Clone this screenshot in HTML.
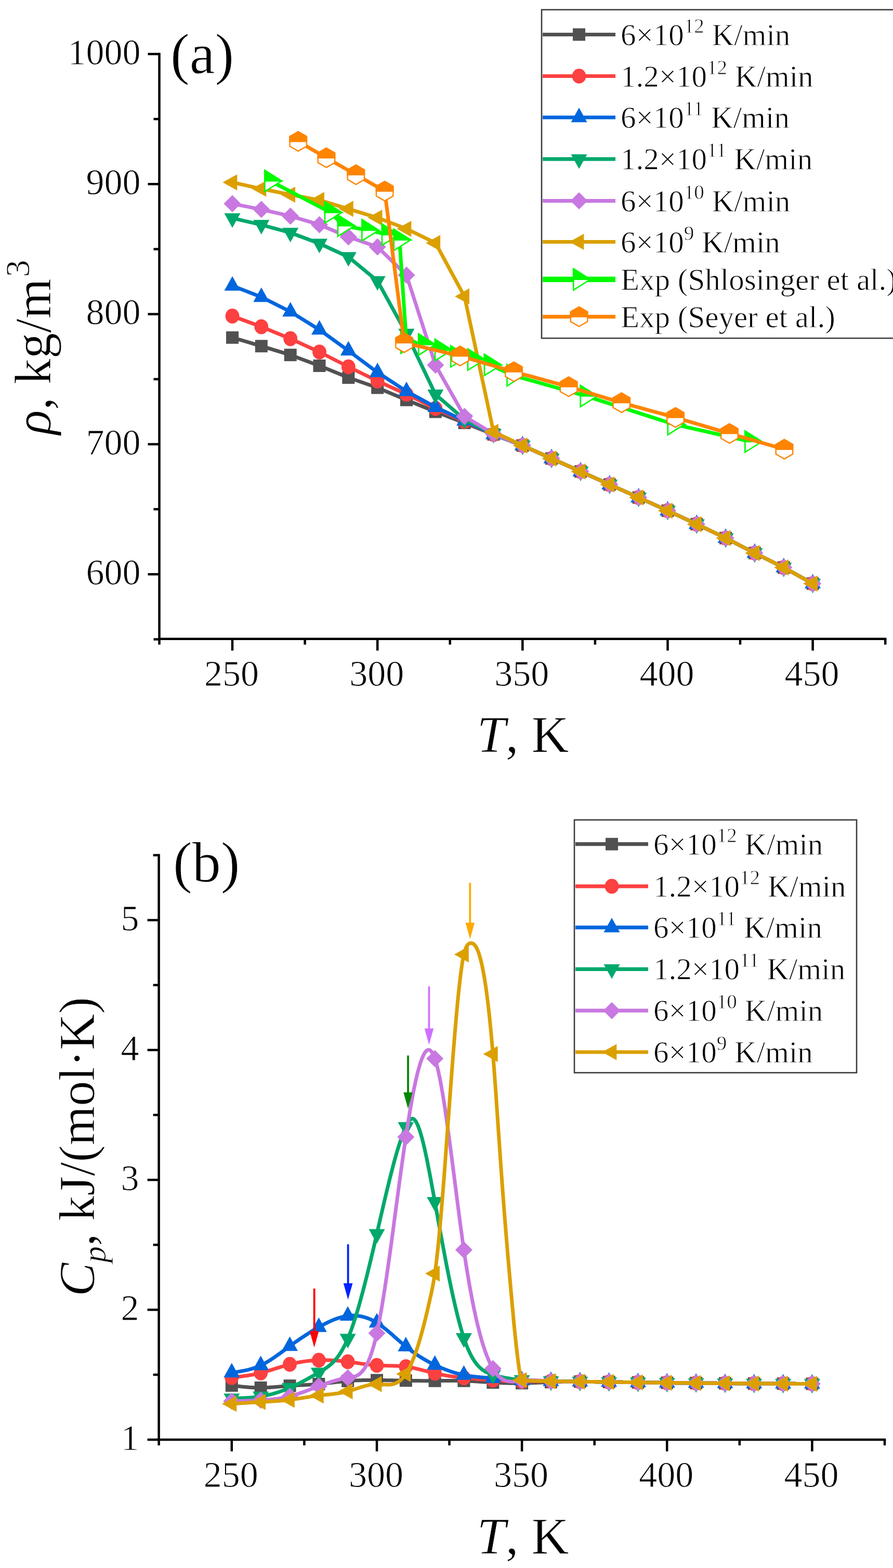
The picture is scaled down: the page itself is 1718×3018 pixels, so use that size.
<!DOCTYPE html>
<html><head><meta charset="utf-8"><title>Figure</title>
<style>
html,body{margin:0;padding:0;background:#fff;}
body{width:1718px;height:3018px;overflow:hidden;}
svg{display:block;}
text{font-family:'Liberation Serif', 'Times New Roman', serif;fill:#000;stroke:#fff;stroke-width:0.9px;}
.tl{font-size:70px;}
.at{font-size:99.5px;}
.pl{font-size:110px;}
.lg{font-size:59px;}
.sup{font-size:39px;}
</style></head><body>
<svg width="1718" height="3018" viewBox="0 0 1718 3018">
<rect width="1718" height="3018" fill="#fff"/>
<line x1="306.5" y1="101.7" x2="306.5" y2="1232.0" stroke="#000" stroke-width="4.5"/>
<line x1="304.2" y1="1229.7" x2="1705.4" y2="1229.7" stroke="#000" stroke-width="4.5"/>
<line x1="284.5" y1="1105.3" x2="306.5" y2="1105.3" stroke="#000" stroke-width="4.5"/>
<line x1="284.5" y1="855.0" x2="306.5" y2="855.0" stroke="#000" stroke-width="4.5"/>
<line x1="284.5" y1="604.6" x2="306.5" y2="604.6" stroke="#000" stroke-width="4.5"/>
<line x1="284.5" y1="354.3" x2="306.5" y2="354.3" stroke="#000" stroke-width="4.5"/>
<line x1="284.5" y1="104.0" x2="306.5" y2="104.0" stroke="#000" stroke-width="4.5"/>
<line x1="295.5" y1="1230.5" x2="306.5" y2="1230.5" stroke="#000" stroke-width="4.5"/>
<line x1="295.5" y1="980.1" x2="306.5" y2="980.1" stroke="#000" stroke-width="4.5"/>
<line x1="295.5" y1="729.8" x2="306.5" y2="729.8" stroke="#000" stroke-width="4.5"/>
<line x1="295.5" y1="479.5" x2="306.5" y2="479.5" stroke="#000" stroke-width="4.5"/>
<line x1="295.5" y1="229.1" x2="306.5" y2="229.1" stroke="#000" stroke-width="4.5"/>
<line x1="447.0" y1="1229.7" x2="447.0" y2="1252.2" stroke="#000" stroke-width="4.5"/>
<line x1="726.2" y1="1229.7" x2="726.2" y2="1252.2" stroke="#000" stroke-width="4.5"/>
<line x1="1005.3" y1="1229.7" x2="1005.3" y2="1252.2" stroke="#000" stroke-width="4.5"/>
<line x1="1284.5" y1="1229.7" x2="1284.5" y2="1252.2" stroke="#000" stroke-width="4.5"/>
<line x1="1563.6" y1="1229.7" x2="1563.6" y2="1252.2" stroke="#000" stroke-width="4.5"/>
<line x1="306.5" y1="1229.7" x2="306.5" y2="1240.7" stroke="#000" stroke-width="4.5"/>
<line x1="586.6" y1="1229.7" x2="586.6" y2="1240.7" stroke="#000" stroke-width="4.5"/>
<line x1="865.7" y1="1229.7" x2="865.7" y2="1240.7" stroke="#000" stroke-width="4.5"/>
<line x1="1144.9" y1="1229.7" x2="1144.9" y2="1240.7" stroke="#000" stroke-width="4.5"/>
<line x1="1424.0" y1="1229.7" x2="1424.0" y2="1240.7" stroke="#000" stroke-width="4.5"/>
<line x1="1703.2" y1="1229.7" x2="1703.2" y2="1240.7" stroke="#000" stroke-width="4.5"/>
<text x="270.5" y="1124.8" text-anchor="end" class="tl">600</text>
<text x="270.5" y="874.5" text-anchor="end" class="tl">700</text>
<text x="270.5" y="624.1" text-anchor="end" class="tl">800</text>
<text x="270.5" y="373.8" text-anchor="end" class="tl">900</text>
<text x="270.5" y="123.5" text-anchor="end" class="tl">1000</text>
<text x="445.5" y="1319.5" text-anchor="middle" class="tl">250</text>
<text x="724.7" y="1319.5" text-anchor="middle" class="tl">300</text>
<text x="1003.8" y="1319.5" text-anchor="middle" class="tl">350</text>
<text x="1283.0" y="1319.5" text-anchor="middle" class="tl">400</text>
<text x="1562.1" y="1319.5" text-anchor="middle" class="tl">450</text>
<polyline points="447.0,649.7 502.8,666.2 558.7,683.2 614.5,704.0 670.3,726.8 726.2,746.3 782.0,769.8 837.8,792.6 893.6,813.9 949.5,836.2 1005.3,857.5 1061.1,882.5 1117.0,907.5 1172.8,932.6 1228.6,957.6 1284.5,982.9 1340.3,1008.9 1396.1,1035.7 1451.9,1064.5 1507.8,1092.3 1563.6,1123.3" fill="none" stroke="#515151" stroke-width="7.0" stroke-linejoin="round" stroke-linecap="butt"/>
<rect x="435.0" y="637.7" width="24" height="24" fill="#515151"/>
<rect x="490.8" y="654.2" width="24" height="24" fill="#515151"/>
<rect x="546.7" y="671.2" width="24" height="24" fill="#515151"/>
<rect x="602.5" y="692.0" width="24" height="24" fill="#515151"/>
<rect x="658.3" y="714.8" width="24" height="24" fill="#515151"/>
<rect x="714.2" y="734.3" width="24" height="24" fill="#515151"/>
<rect x="770.0" y="757.8" width="24" height="24" fill="#515151"/>
<rect x="825.8" y="780.6" width="24" height="24" fill="#515151"/>
<rect x="881.6" y="801.9" width="24" height="24" fill="#515151"/>
<rect x="937.5" y="824.2" width="24" height="24" fill="#515151"/>
<rect x="993.3" y="845.5" width="24" height="24" fill="#515151"/>
<rect x="1049.1" y="870.5" width="24" height="24" fill="#515151"/>
<rect x="1105.0" y="895.5" width="24" height="24" fill="#515151"/>
<rect x="1160.8" y="920.6" width="24" height="24" fill="#515151"/>
<rect x="1216.6" y="945.6" width="24" height="24" fill="#515151"/>
<rect x="1272.5" y="970.9" width="24" height="24" fill="#515151"/>
<rect x="1328.3" y="996.9" width="24" height="24" fill="#515151"/>
<rect x="1384.1" y="1023.7" width="24" height="24" fill="#515151"/>
<rect x="1439.9" y="1052.5" width="24" height="24" fill="#515151"/>
<rect x="1495.8" y="1080.3" width="24" height="24" fill="#515151"/>
<rect x="1551.6" y="1111.3" width="24" height="24" fill="#515151"/>
<polyline points="447.0,608.4 502.8,628.9 558.7,651.9 614.5,677.5 670.3,706.0 726.2,733.3 782.0,758.8 837.8,786.1 893.6,811.2 949.5,836.2 1005.3,857.5 1061.1,882.5 1117.0,907.5 1172.8,932.6 1228.6,957.6 1284.5,982.9 1340.3,1008.9 1396.1,1035.7 1451.9,1064.5 1507.8,1092.3 1563.6,1123.3" fill="none" stroke="#fd4040" stroke-width="7.0" stroke-linejoin="round" stroke-linecap="butt"/>
<ellipse cx="447.0" cy="608.4" rx="13.4" ry="14.3" fill="#fd4040"/>
<ellipse cx="502.8" cy="628.9" rx="13.4" ry="14.3" fill="#fd4040"/>
<ellipse cx="558.7" cy="651.9" rx="13.4" ry="14.3" fill="#fd4040"/>
<ellipse cx="614.5" cy="677.5" rx="13.4" ry="14.3" fill="#fd4040"/>
<ellipse cx="670.3" cy="706.0" rx="13.4" ry="14.3" fill="#fd4040"/>
<ellipse cx="726.2" cy="733.3" rx="13.4" ry="14.3" fill="#fd4040"/>
<ellipse cx="782.0" cy="758.8" rx="13.4" ry="14.3" fill="#fd4040"/>
<ellipse cx="837.8" cy="786.1" rx="13.4" ry="14.3" fill="#fd4040"/>
<ellipse cx="893.6" cy="811.2" rx="13.4" ry="14.3" fill="#fd4040"/>
<ellipse cx="949.5" cy="836.2" rx="13.4" ry="14.3" fill="#fd4040"/>
<ellipse cx="1005.3" cy="857.5" rx="13.4" ry="14.3" fill="#fd4040"/>
<ellipse cx="1061.1" cy="882.5" rx="13.4" ry="14.3" fill="#fd4040"/>
<ellipse cx="1117.0" cy="907.5" rx="13.4" ry="14.3" fill="#fd4040"/>
<ellipse cx="1172.8" cy="932.6" rx="13.4" ry="14.3" fill="#fd4040"/>
<ellipse cx="1228.6" cy="957.6" rx="13.4" ry="14.3" fill="#fd4040"/>
<ellipse cx="1284.5" cy="982.9" rx="13.4" ry="14.3" fill="#fd4040"/>
<ellipse cx="1340.3" cy="1008.9" rx="13.4" ry="14.3" fill="#fd4040"/>
<ellipse cx="1396.1" cy="1035.7" rx="13.4" ry="14.3" fill="#fd4040"/>
<ellipse cx="1451.9" cy="1064.5" rx="13.4" ry="14.3" fill="#fd4040"/>
<ellipse cx="1507.8" cy="1092.3" rx="13.4" ry="14.3" fill="#fd4040"/>
<ellipse cx="1563.6" cy="1123.3" rx="13.4" ry="14.3" fill="#fd4040"/>
<polyline points="447.0,550.1 502.8,571.8 558.7,599.9 614.5,634.7 670.3,675.0 726.2,716.8 782.0,753.1 837.8,783.6 893.6,809.9 949.5,836.2 1005.3,857.5 1061.1,882.5 1117.0,907.5 1172.8,932.6 1228.6,957.6 1284.5,982.9 1340.3,1008.9 1396.1,1035.7 1451.9,1064.5 1507.8,1092.3 1563.6,1123.3" fill="none" stroke="#0066dd" stroke-width="7.0" stroke-linejoin="round" stroke-linecap="butt"/>
<polygon points="447.0,531.4 462.5,559.4 431.5,559.4" fill="#0066dd"/>
<polygon points="502.8,553.2 518.3,581.2 487.3,581.2" fill="#0066dd"/>
<polygon points="558.7,581.2 574.2,609.2 543.2,609.2" fill="#0066dd"/>
<polygon points="614.5,616.0 630.0,644.0 599.0,644.0" fill="#0066dd"/>
<polygon points="670.3,656.3 685.8,684.3 654.8,684.3" fill="#0066dd"/>
<polygon points="726.2,698.1 741.7,726.1 710.7,726.1" fill="#0066dd"/>
<polygon points="782.0,734.4 797.5,762.4 766.5,762.4" fill="#0066dd"/>
<polygon points="837.8,764.9 853.3,792.9 822.3,792.9" fill="#0066dd"/>
<polygon points="893.6,791.2 909.1,819.2 878.1,819.2" fill="#0066dd"/>
<polygon points="949.5,817.5 965.0,845.5 934.0,845.5" fill="#0066dd"/>
<polygon points="1005.3,838.8 1020.8,866.8 989.8,866.8" fill="#0066dd"/>
<polygon points="1061.1,863.8 1076.6,891.8 1045.6,891.8" fill="#0066dd"/>
<polygon points="1117.0,888.9 1132.5,916.9 1101.5,916.9" fill="#0066dd"/>
<polygon points="1172.8,913.9 1188.3,941.9 1157.3,941.9" fill="#0066dd"/>
<polygon points="1228.6,938.9 1244.1,966.9 1213.1,966.9" fill="#0066dd"/>
<polygon points="1284.5,964.2 1300.0,992.2 1269.0,992.2" fill="#0066dd"/>
<polygon points="1340.3,990.2 1355.8,1018.2 1324.8,1018.2" fill="#0066dd"/>
<polygon points="1396.1,1017.0 1411.6,1045.0 1380.6,1045.0" fill="#0066dd"/>
<polygon points="1451.9,1045.8 1467.4,1073.8 1436.4,1073.8" fill="#0066dd"/>
<polygon points="1507.8,1073.6 1523.3,1101.6 1492.3,1101.6" fill="#0066dd"/>
<polygon points="1563.6,1104.6 1579.1,1132.6 1548.1,1132.6" fill="#0066dd"/>
<polyline points="447.0,419.9 502.8,432.7 558.7,447.9 614.5,468.7 670.3,494.5 726.2,540.8 782.0,642.2 837.8,759.1 893.6,807.4 949.5,834.9 1005.3,857.5 1061.1,882.5 1117.0,907.5 1172.8,932.6 1228.6,957.6 1284.5,982.9 1340.3,1008.9 1396.1,1035.7 1451.9,1064.5 1507.8,1092.3 1563.6,1123.3" fill="none" stroke="#00a86b" stroke-width="7.0" stroke-linejoin="round" stroke-linecap="butt"/>
<polygon points="447.0,438.6 462.5,410.6 431.5,410.6" fill="#00a86b"/>
<polygon points="502.8,451.3 518.3,423.3 487.3,423.3" fill="#00a86b"/>
<polygon points="558.7,466.6 574.2,438.6 543.2,438.6" fill="#00a86b"/>
<polygon points="614.5,487.4 630.0,459.4 599.0,459.4" fill="#00a86b"/>
<polygon points="670.3,513.2 685.8,485.2 654.8,485.2" fill="#00a86b"/>
<polygon points="726.2,559.5 741.7,531.5 710.7,531.5" fill="#00a86b"/>
<polygon points="782.0,660.8 797.5,632.8 766.5,632.8" fill="#00a86b"/>
<polygon points="837.8,777.8 853.3,749.8 822.3,749.8" fill="#00a86b"/>
<polygon points="893.6,826.1 909.1,798.1 878.1,798.1" fill="#00a86b"/>
<polygon points="949.5,853.6 965.0,825.6 934.0,825.6" fill="#00a86b"/>
<polygon points="1005.3,876.1 1020.8,848.1 989.8,848.1" fill="#00a86b"/>
<polygon points="1061.1,901.2 1076.6,873.2 1045.6,873.2" fill="#00a86b"/>
<polygon points="1117.0,926.2 1132.5,898.2 1101.5,898.2" fill="#00a86b"/>
<polygon points="1172.8,951.2 1188.3,923.2 1157.3,923.2" fill="#00a86b"/>
<polygon points="1228.6,976.3 1244.1,948.3 1213.1,948.3" fill="#00a86b"/>
<polygon points="1284.5,1001.5 1300.0,973.5 1269.0,973.5" fill="#00a86b"/>
<polygon points="1340.3,1027.6 1355.8,999.6 1324.8,999.6" fill="#00a86b"/>
<polygon points="1396.1,1054.4 1411.6,1026.4 1380.6,1026.4" fill="#00a86b"/>
<polygon points="1451.9,1083.2 1467.4,1055.2 1436.4,1055.2" fill="#00a86b"/>
<polygon points="1507.8,1110.9 1523.3,1082.9 1492.3,1082.9" fill="#00a86b"/>
<polygon points="1563.6,1142.0 1579.1,1114.0 1548.1,1114.0" fill="#00a86b"/>
<polyline points="447.0,392.1 502.8,403.1 558.7,415.9 614.5,432.4 670.3,455.9 726.2,475.2 782.0,529.5 837.8,702.8 893.6,801.4 949.5,834.9 1005.3,857.5 1061.1,882.5 1117.0,907.5 1172.8,932.6 1228.6,957.6 1284.5,982.9 1340.3,1008.9 1396.1,1035.7 1451.9,1064.5 1507.8,1092.3 1563.6,1123.3" fill="none" stroke="#c878e0" stroke-width="7.0" stroke-linejoin="round" stroke-linecap="butt"/>
<polygon points="447.0,375.6 463.5,392.1 447.0,408.6 430.5,392.1" fill="#c878e0"/>
<polygon points="502.8,386.6 519.3,403.1 502.8,419.6 486.3,403.1" fill="#c878e0"/>
<polygon points="558.7,399.4 575.2,415.9 558.7,432.4 542.2,415.9" fill="#c878e0"/>
<polygon points="614.5,415.9 631.0,432.4 614.5,448.9 598.0,432.4" fill="#c878e0"/>
<polygon points="670.3,439.4 686.8,455.9 670.3,472.4 653.8,455.9" fill="#c878e0"/>
<polygon points="726.2,458.7 742.7,475.2 726.2,491.7 709.7,475.2" fill="#c878e0"/>
<polygon points="782.0,513.0 798.5,529.5 782.0,546.0 765.5,529.5" fill="#c878e0"/>
<polygon points="837.8,686.3 854.3,702.8 837.8,719.3 821.3,702.8" fill="#c878e0"/>
<polygon points="893.6,784.9 910.1,801.4 893.6,817.9 877.1,801.4" fill="#c878e0"/>
<polygon points="949.5,818.4 966.0,834.9 949.5,851.4 933.0,834.9" fill="#c878e0"/>
<polygon points="1005.3,841.0 1021.8,857.5 1005.3,874.0 988.8,857.5" fill="#c878e0"/>
<polygon points="1061.1,866.0 1077.6,882.5 1061.1,899.0 1044.6,882.5" fill="#c878e0"/>
<polygon points="1117.0,891.0 1133.5,907.5 1117.0,924.0 1100.5,907.5" fill="#c878e0"/>
<polygon points="1172.8,916.1 1189.3,932.6 1172.8,949.1 1156.3,932.6" fill="#c878e0"/>
<polygon points="1228.6,941.1 1245.1,957.6 1228.6,974.1 1212.1,957.6" fill="#c878e0"/>
<polygon points="1284.5,966.4 1301.0,982.9 1284.5,999.4 1268.0,982.9" fill="#c878e0"/>
<polygon points="1340.3,992.4 1356.8,1008.9 1340.3,1025.4 1323.8,1008.9" fill="#c878e0"/>
<polygon points="1396.1,1019.2 1412.6,1035.7 1396.1,1052.2 1379.6,1035.7" fill="#c878e0"/>
<polygon points="1451.9,1048.0 1468.4,1064.5 1451.9,1081.0 1435.4,1064.5" fill="#c878e0"/>
<polygon points="1507.8,1075.8 1524.3,1092.3 1507.8,1108.8 1491.3,1092.3" fill="#c878e0"/>
<polygon points="1563.6,1106.8 1580.1,1123.3 1563.6,1139.8 1547.1,1123.3" fill="#c878e0"/>
<polyline points="447.0,351.0 502.8,363.3 558.7,374.8 614.5,385.1 670.3,402.1 726.2,419.1 782.0,440.4 837.8,467.7 893.6,570.6 949.5,831.2 1005.3,857.5 1061.1,882.5 1117.0,907.5 1172.8,932.6 1228.6,957.6 1284.5,982.9 1340.3,1008.9 1396.1,1035.7 1451.9,1064.5 1507.8,1092.3 1563.6,1123.3" fill="none" stroke="#dba000" stroke-width="7.0" stroke-linejoin="round" stroke-linecap="butt"/>
<polygon points="428.3,351.0 456.3,335.5 456.3,366.5" fill="#dba000"/>
<polygon points="484.2,363.3 512.2,347.8 512.2,378.8" fill="#dba000"/>
<polygon points="540.0,374.8 568.0,359.3 568.0,390.3" fill="#dba000"/>
<polygon points="595.8,385.1 623.8,369.6 623.8,400.6" fill="#dba000"/>
<polygon points="651.7,402.1 679.7,386.6 679.7,417.6" fill="#dba000"/>
<polygon points="707.5,419.1 735.5,403.6 735.5,434.6" fill="#dba000"/>
<polygon points="763.3,440.4 791.3,424.9 791.3,455.9" fill="#dba000"/>
<polygon points="819.1,467.7 847.1,452.2 847.1,483.2" fill="#dba000"/>
<polygon points="875.0,570.6 903.0,555.1 903.0,586.1" fill="#dba000"/>
<polygon points="930.8,831.2 958.8,815.7 958.8,846.7" fill="#dba000"/>
<polygon points="986.6,857.5 1014.6,842.0 1014.6,873.0" fill="#dba000"/>
<polygon points="1042.5,882.5 1070.5,867.0 1070.5,898.0" fill="#dba000"/>
<polygon points="1098.3,907.5 1126.3,892.0 1126.3,923.0" fill="#dba000"/>
<polygon points="1154.1,932.6 1182.1,917.1 1182.1,948.1" fill="#dba000"/>
<polygon points="1210.0,957.6 1238.0,942.1 1238.0,973.1" fill="#dba000"/>
<polygon points="1265.8,982.9 1293.8,967.4 1293.8,998.4" fill="#dba000"/>
<polygon points="1321.6,1008.9 1349.6,993.4 1349.6,1024.4" fill="#dba000"/>
<polygon points="1377.4,1035.7 1405.4,1020.2 1405.4,1051.2" fill="#dba000"/>
<polygon points="1433.3,1064.5 1461.3,1049.0 1461.3,1080.0" fill="#dba000"/>
<polygon points="1489.1,1092.3 1517.1,1076.8 1517.1,1107.8" fill="#dba000"/>
<polygon points="1544.9,1123.3 1572.9,1107.8 1572.9,1138.8" fill="#dba000"/>
<polyline points="520.1,348.3 635.7,408.9 660.8,434.4 707.2,443.2 745.7,451.7 768.6,461.7 782.0,659.7 816.0,663.2 847.9,673.7 878.0,686.0 910.9,692.0 942.8,702.3 986.3,722.3 1127.6,762.3 1295.6,816.4 1444.1,850.0" fill="none" stroke="#00fa00" stroke-width="7.0" stroke-linejoin="round" stroke-linecap="butt"/>
<polygon points="509.3,327.8 541.8,348.3 509.3,368.8" fill="#fff" stroke="#00fa00" stroke-width="2.6" stroke-linejoin="miter"/><polygon points="509.3,327.8 541.8,348.3 509.3,348.3" fill="#00fa00" stroke="#00fa00" stroke-width="2.6"/>
<polygon points="624.9,388.4 657.4,408.9 624.9,429.4" fill="#fff" stroke="#00fa00" stroke-width="2.6" stroke-linejoin="miter"/><polygon points="624.9,388.4 657.4,408.9 624.9,408.9" fill="#00fa00" stroke="#00fa00" stroke-width="2.6"/>
<polygon points="650.0,413.9 682.5,434.4 650.0,454.9" fill="#fff" stroke="#00fa00" stroke-width="2.6" stroke-linejoin="miter"/><polygon points="650.0,413.9 682.5,434.4 650.0,434.4" fill="#00fa00" stroke="#00fa00" stroke-width="2.6"/>
<polygon points="696.3,422.7 728.8,443.2 696.3,463.7" fill="#fff" stroke="#00fa00" stroke-width="2.6" stroke-linejoin="miter"/><polygon points="696.3,422.7 728.8,443.2 696.3,443.2" fill="#00fa00" stroke="#00fa00" stroke-width="2.6"/>
<polygon points="734.9,431.2 767.4,451.7 734.9,472.2" fill="#fff" stroke="#00fa00" stroke-width="2.6" stroke-linejoin="miter"/><polygon points="734.9,431.2 767.4,451.7 734.9,451.7" fill="#00fa00" stroke="#00fa00" stroke-width="2.6"/>
<polygon points="757.7,441.2 790.2,461.7 757.7,482.2" fill="#fff" stroke="#00fa00" stroke-width="2.6" stroke-linejoin="miter"/><polygon points="757.7,441.2 790.2,461.7 757.7,461.7" fill="#00fa00" stroke="#00fa00" stroke-width="2.6"/>
<polygon points="771.1,639.2 803.6,659.7 771.1,680.2" fill="#fff" stroke="#00fa00" stroke-width="2.6" stroke-linejoin="miter"/><polygon points="771.1,639.2 803.6,659.7 771.1,659.7" fill="#00fa00" stroke="#00fa00" stroke-width="2.6"/>
<polygon points="805.2,642.7 837.7,663.2 805.2,683.7" fill="#fff" stroke="#00fa00" stroke-width="2.6" stroke-linejoin="miter"/><polygon points="805.2,642.7 837.7,663.2 805.2,663.2" fill="#00fa00" stroke="#00fa00" stroke-width="2.6"/>
<polygon points="837.0,653.2 869.5,673.7 837.0,694.2" fill="#fff" stroke="#00fa00" stroke-width="2.6" stroke-linejoin="miter"/><polygon points="837.0,653.2 869.5,673.7 837.0,673.7" fill="#00fa00" stroke="#00fa00" stroke-width="2.6"/>
<polygon points="867.2,665.5 899.7,686.0 867.2,706.5" fill="#fff" stroke="#00fa00" stroke-width="2.6" stroke-linejoin="miter"/><polygon points="867.2,665.5 899.7,686.0 867.2,686.0" fill="#00fa00" stroke="#00fa00" stroke-width="2.6"/>
<polygon points="900.1,671.5 932.6,692.0 900.1,712.5" fill="#fff" stroke="#00fa00" stroke-width="2.6" stroke-linejoin="miter"/><polygon points="900.1,671.5 932.6,692.0 900.1,692.0" fill="#00fa00" stroke="#00fa00" stroke-width="2.6"/>
<polygon points="931.9,681.8 964.4,702.3 931.9,722.8" fill="#fff" stroke="#00fa00" stroke-width="2.6" stroke-linejoin="miter"/><polygon points="931.9,681.8 964.4,702.3 931.9,702.3" fill="#00fa00" stroke="#00fa00" stroke-width="2.6"/>
<polygon points="975.5,701.8 1008.0,722.3 975.5,742.8" fill="#fff" stroke="#00fa00" stroke-width="2.6" stroke-linejoin="miter"/><polygon points="975.5,701.8 1008.0,722.3 975.5,722.3" fill="#00fa00" stroke="#00fa00" stroke-width="2.6"/>
<polygon points="1116.7,741.8 1149.2,762.3 1116.7,782.8" fill="#fff" stroke="#00fa00" stroke-width="2.6" stroke-linejoin="miter"/><polygon points="1116.7,741.8 1149.2,762.3 1116.7,762.3" fill="#00fa00" stroke="#00fa00" stroke-width="2.6"/>
<polygon points="1284.8,795.9 1317.3,816.4 1284.8,836.9" fill="#fff" stroke="#00fa00" stroke-width="2.6" stroke-linejoin="miter"/><polygon points="1284.8,795.9 1317.3,816.4 1284.8,816.4" fill="#00fa00" stroke="#00fa00" stroke-width="2.6"/>
<polygon points="1433.3,829.5 1465.8,850.0 1433.3,870.5" fill="#fff" stroke="#00fa00" stroke-width="2.6" stroke-linejoin="miter"/><polygon points="1433.3,829.5 1465.8,850.0 1433.3,850.0" fill="#00fa00" stroke="#00fa00" stroke-width="2.6"/>
<polyline points="573.7,272.2 627.9,303.7 684.8,336.3 740.1,367.8 777.5,659.7 885.3,685.2 988.6,715.5 1094.1,744.3 1195.7,775.1 1299.5,803.6 1403.4,834.4 1508.9,864.7" fill="none" stroke="#ff8400" stroke-width="7.0" stroke-linejoin="round" stroke-linecap="butt"/>
<polygon points="573.7,253.5 589.9,262.8 589.9,281.5 573.7,290.9 557.5,281.5 557.5,262.8" fill="#fff" stroke="#ff8400" stroke-width="2.4"/><polygon points="557.5,272.2 557.5,262.8 573.7,253.5 589.9,262.8 589.9,272.2" fill="#ff8400" stroke="#ff8400" stroke-width="2.4"/>
<polygon points="627.9,285.0 644.1,294.4 644.1,313.1 627.9,322.4 611.7,313.1 611.7,294.4" fill="#fff" stroke="#ff8400" stroke-width="2.4"/><polygon points="611.7,303.7 611.7,294.4 627.9,285.0 644.1,294.4 644.1,303.7" fill="#ff8400" stroke="#ff8400" stroke-width="2.4"/>
<polygon points="684.8,317.6 701.0,326.9 701.0,345.6 684.8,355.0 668.6,345.6 668.6,326.9" fill="#fff" stroke="#ff8400" stroke-width="2.4"/><polygon points="668.6,336.3 668.6,326.9 684.8,317.6 701.0,326.9 701.0,336.3" fill="#ff8400" stroke="#ff8400" stroke-width="2.4"/>
<polygon points="740.1,349.1 756.3,358.5 756.3,377.2 740.1,386.5 723.9,377.2 723.9,358.5" fill="#fff" stroke="#ff8400" stroke-width="2.4"/><polygon points="723.9,367.8 723.9,358.5 740.1,349.1 756.3,358.5 756.3,367.8" fill="#ff8400" stroke="#ff8400" stroke-width="2.4"/>
<polygon points="777.5,641.0 793.7,650.4 793.7,669.1 777.5,678.4 761.3,669.1 761.3,650.4" fill="#fff" stroke="#ff8400" stroke-width="2.4"/><polygon points="761.3,659.7 761.3,650.4 777.5,641.0 793.7,650.4 793.7,659.7" fill="#ff8400" stroke="#ff8400" stroke-width="2.4"/>
<polygon points="885.3,666.5 901.5,675.9 901.5,694.6 885.3,703.9 869.1,694.6 869.1,675.9" fill="#fff" stroke="#ff8400" stroke-width="2.4"/><polygon points="869.1,685.2 869.1,675.9 885.3,666.5 901.5,675.9 901.5,685.2" fill="#ff8400" stroke="#ff8400" stroke-width="2.4"/>
<polygon points="988.6,696.8 1004.7,706.2 1004.7,724.9 988.6,734.2 972.4,724.9 972.4,706.2" fill="#fff" stroke="#ff8400" stroke-width="2.4"/><polygon points="972.4,715.5 972.4,706.2 988.6,696.8 1004.7,706.2 1004.7,715.5" fill="#ff8400" stroke="#ff8400" stroke-width="2.4"/>
<polygon points="1094.1,725.6 1110.3,735.0 1110.3,753.7 1094.1,763.0 1077.9,753.7 1077.9,735.0" fill="#fff" stroke="#ff8400" stroke-width="2.4"/><polygon points="1077.9,744.3 1077.9,735.0 1094.1,725.6 1110.3,735.0 1110.3,744.3" fill="#ff8400" stroke="#ff8400" stroke-width="2.4"/>
<polygon points="1195.7,756.4 1211.9,765.8 1211.9,784.5 1195.7,793.8 1179.5,784.5 1179.5,765.8" fill="#fff" stroke="#ff8400" stroke-width="2.4"/><polygon points="1179.5,775.1 1179.5,765.8 1195.7,756.4 1211.9,765.8 1211.9,775.1" fill="#ff8400" stroke="#ff8400" stroke-width="2.4"/>
<polygon points="1299.5,784.9 1315.7,794.3 1315.7,813.0 1299.5,822.3 1283.3,813.0 1283.3,794.3" fill="#fff" stroke="#ff8400" stroke-width="2.4"/><polygon points="1283.3,803.6 1283.3,794.3 1299.5,784.9 1315.7,794.3 1315.7,803.6" fill="#ff8400" stroke="#ff8400" stroke-width="2.4"/>
<polygon points="1403.4,815.7 1419.6,825.1 1419.6,843.8 1403.4,853.1 1387.2,843.8 1387.2,825.1" fill="#fff" stroke="#ff8400" stroke-width="2.4"/><polygon points="1387.2,834.4 1387.2,825.1 1403.4,815.7 1419.6,825.1 1419.6,834.4" fill="#ff8400" stroke="#ff8400" stroke-width="2.4"/>
<polygon points="1508.9,846.0 1525.1,855.4 1525.1,874.1 1508.9,883.4 1492.7,874.1 1492.7,855.4" fill="#fff" stroke="#ff8400" stroke-width="2.4"/><polygon points="1492.7,864.7 1492.7,855.4 1508.9,846.0 1525.1,855.4 1525.1,864.7" fill="#ff8400" stroke="#ff8400" stroke-width="2.4"/>
<rect x="1042" y="18.7" width="718" height="632.3" fill="#fff" stroke="#3c3c3c" stroke-width="2.6"/>
<line x1="1044" y1="66.5" x2="1184" y2="66.5" stroke="#515151" stroke-width="7.2"/>
<rect x="1102.0" y="54.5" width="24" height="24" fill="#515151"/>
<text x="1194" y="86.5" class="lg">6×10<tspan class="sup" dy="-24">12</tspan><tspan dy="24"> K/min</tspan></text>
<line x1="1044" y1="146.5" x2="1184" y2="146.5" stroke="#fd4040" stroke-width="7.2"/>
<ellipse cx="1114.0" cy="146.5" rx="13.4" ry="14.3" fill="#fd4040"/>
<text x="1194" y="166.5" class="lg">1.2×10<tspan class="sup" dy="-24">12</tspan><tspan dy="24"> K/min</tspan></text>
<line x1="1044" y1="226" x2="1184" y2="226" stroke="#0066dd" stroke-width="7.2"/>
<polygon points="1114.0,207.3 1129.5,235.3 1098.5,235.3" fill="#0066dd"/>
<text x="1194" y="246" class="lg">6×10<tspan class="sup" dy="-24">11</tspan><tspan dy="24"> K/min</tspan></text>
<line x1="1044" y1="306.2" x2="1184" y2="306.2" stroke="#00a86b" stroke-width="7.2"/>
<polygon points="1114.0,324.9 1129.5,296.9 1098.5,296.9" fill="#00a86b"/>
<text x="1194" y="326.2" class="lg">1.2×10<tspan class="sup" dy="-24">11</tspan><tspan dy="24"> K/min</tspan></text>
<line x1="1044" y1="386.6" x2="1184" y2="386.6" stroke="#c878e0" stroke-width="7.2"/>
<polygon points="1114.0,370.1 1130.5,386.6 1114.0,403.1 1097.5,386.6" fill="#c878e0"/>
<text x="1194" y="406.6" class="lg">6×10<tspan class="sup" dy="-24">10</tspan><tspan dy="24"> K/min</tspan></text>
<line x1="1044" y1="465.5" x2="1184" y2="465.5" stroke="#dba000" stroke-width="7.2"/>
<polygon points="1095.3,465.5 1123.3,450.0 1123.3,481.0" fill="#dba000"/>
<text x="1194" y="485.5" class="lg">6×10<tspan class="sup" dy="-24">9</tspan><tspan dy="24"> K/min</tspan></text>
<line x1="1044" y1="537.8" x2="1184" y2="537.8" stroke="#00fa00" stroke-width="10.5"/>
<polygon points="1103.2,517.3 1135.7,537.8 1103.2,558.3" fill="#fff" stroke="#00fa00" stroke-width="2.6" stroke-linejoin="miter"/><polygon points="1103.2,517.3 1135.7,537.8 1103.2,537.8" fill="#00fa00" stroke="#00fa00" stroke-width="2.6"/>
<text x="1194" y="557.8" class="lg">Exp (Shlosinger et al.)</text>
<line x1="1044" y1="609.6" x2="1184" y2="609.6" stroke="#ff8400" stroke-width="7.2"/>
<polygon points="1114.0,590.9 1130.2,600.2 1130.2,619.0 1114.0,628.3 1097.8,619.0 1097.8,600.2" fill="#fff" stroke="#ff8400" stroke-width="2.4"/><polygon points="1097.8,609.6 1097.8,600.2 1114.0,590.9 1130.2,600.2 1130.2,609.6" fill="#ff8400" stroke="#ff8400" stroke-width="2.4"/>
<text x="1194" y="629.6" class="lg">Exp (Seyer et al.)</text>
<line x1="305.6" y1="1643.8" x2="305.6" y2="2773.2" stroke="#000" stroke-width="4.5"/>
<line x1="303.4" y1="2771.0" x2="1704.2" y2="2771.0" stroke="#000" stroke-width="4.5"/>
<line x1="283.6" y1="2771.0" x2="305.6" y2="2771.0" stroke="#000" stroke-width="4.5"/>
<line x1="283.6" y1="2521.0" x2="305.6" y2="2521.0" stroke="#000" stroke-width="4.5"/>
<line x1="283.6" y1="2271.0" x2="305.6" y2="2271.0" stroke="#000" stroke-width="4.5"/>
<line x1="283.6" y1="2021.0" x2="305.6" y2="2021.0" stroke="#000" stroke-width="4.5"/>
<line x1="283.6" y1="1771.0" x2="305.6" y2="1771.0" stroke="#000" stroke-width="4.5"/>
<line x1="294.6" y1="2646.0" x2="305.6" y2="2646.0" stroke="#000" stroke-width="4.5"/>
<line x1="294.6" y1="2396.0" x2="305.6" y2="2396.0" stroke="#000" stroke-width="4.5"/>
<line x1="294.6" y1="2146.0" x2="305.6" y2="2146.0" stroke="#000" stroke-width="4.5"/>
<line x1="294.6" y1="1896.0" x2="305.6" y2="1896.0" stroke="#000" stroke-width="4.5"/>
<line x1="294.6" y1="1646.0" x2="305.6" y2="1646.0" stroke="#000" stroke-width="4.5"/>
<line x1="445.8" y1="2771.0" x2="445.8" y2="2793.5" stroke="#000" stroke-width="4.5"/>
<line x1="725.0" y1="2771.0" x2="725.0" y2="2793.5" stroke="#000" stroke-width="4.5"/>
<line x1="1004.1" y1="2771.0" x2="1004.1" y2="2793.5" stroke="#000" stroke-width="4.5"/>
<line x1="1283.2" y1="2771.0" x2="1283.2" y2="2793.5" stroke="#000" stroke-width="4.5"/>
<line x1="1562.4" y1="2771.0" x2="1562.4" y2="2793.5" stroke="#000" stroke-width="4.5"/>
<line x1="305.6" y1="2771.0" x2="305.6" y2="2782.0" stroke="#000" stroke-width="4.5"/>
<line x1="585.4" y1="2771.0" x2="585.4" y2="2782.0" stroke="#000" stroke-width="4.5"/>
<line x1="864.5" y1="2771.0" x2="864.5" y2="2782.0" stroke="#000" stroke-width="4.5"/>
<line x1="1143.7" y1="2771.0" x2="1143.7" y2="2782.0" stroke="#000" stroke-width="4.5"/>
<line x1="1422.8" y1="2771.0" x2="1422.8" y2="2782.0" stroke="#000" stroke-width="4.5"/>
<line x1="1702.0" y1="2771.0" x2="1702.0" y2="2782.0" stroke="#000" stroke-width="4.5"/>
<text x="267.5" y="2790.5" text-anchor="end" class="tl">1</text>
<text x="267.5" y="2540.5" text-anchor="end" class="tl">2</text>
<text x="267.5" y="2290.5" text-anchor="end" class="tl">3</text>
<text x="267.5" y="2040.5" text-anchor="end" class="tl">4</text>
<text x="267.5" y="1790.5" text-anchor="end" class="tl">5</text>
<text x="444.3" y="2862.0" text-anchor="middle" class="tl">250</text>
<text x="723.5" y="2862.0" text-anchor="middle" class="tl">300</text>
<text x="1002.6" y="2862.0" text-anchor="middle" class="tl">350</text>
<text x="1281.8" y="2862.0" text-anchor="middle" class="tl">400</text>
<text x="1560.9" y="2862.0" text-anchor="middle" class="tl">450</text>
<polyline points="445.8,2666.8 447.2,2666.9 448.6,2667.1 450.0,2667.2 451.4,2667.4 452.8,2667.6 454.2,2667.7 455.6,2667.9 457.0,2668.0 458.4,2668.2 459.8,2668.3 461.2,2668.5 462.5,2668.6 463.9,2668.8 465.3,2668.9 466.7,2669.1 468.1,2669.2 469.5,2669.3 470.9,2669.5 472.3,2669.6 473.7,2669.7 475.1,2669.8 476.5,2670.0 477.9,2670.1 479.3,2670.2 480.7,2670.3 482.1,2670.4 483.5,2670.4 484.9,2670.5 486.3,2670.6 487.7,2670.7 489.1,2670.7 490.5,2670.8 491.9,2670.8 493.3,2670.9 494.7,2670.9 496.0,2671.0 497.4,2671.0 498.8,2671.0 500.2,2671.0 501.6,2671.0 503.0,2671.0 504.4,2671.0 505.8,2670.9 507.2,2670.9 508.6,2670.9 510.0,2670.8 511.4,2670.8 512.8,2670.7 514.2,2670.6 515.6,2670.6 517.0,2670.5 518.4,2670.4 519.8,2670.3 521.2,2670.2 522.6,2670.1 524.0,2670.0 525.4,2669.9 526.8,2669.8 528.1,2669.7 529.5,2669.6 530.9,2669.5 532.3,2669.4 533.7,2669.2 535.1,2669.1 536.5,2669.0 537.9,2668.9 539.3,2668.8 540.7,2668.6 542.1,2668.5 543.5,2668.4 544.9,2668.3 546.3,2668.1 547.7,2668.0 549.1,2667.9 550.5,2667.8 551.9,2667.7 553.3,2667.6 554.7,2667.5 556.1,2667.4 557.5,2667.2 558.9,2667.2 560.3,2667.1 561.6,2667.0 563.0,2666.9 564.4,2666.8 565.8,2666.7 567.2,2666.6 568.6,2666.6 570.0,2666.5 571.4,2666.4 572.8,2666.3 574.2,2666.3 575.6,2666.2 577.0,2666.1 578.4,2666.1 579.8,2666.0 581.2,2665.9 582.6,2665.9 584.0,2665.8 585.4,2665.7 586.8,2665.7 588.2,2665.6 589.6,2665.5 591.0,2665.5 592.4,2665.4 593.7,2665.3 595.1,2665.2 596.5,2665.2 597.9,2665.1 599.3,2665.0 600.7,2664.9 602.1,2664.8 603.5,2664.7 604.9,2664.6 606.3,2664.5 607.7,2664.4 609.1,2664.3 610.5,2664.2 611.9,2664.1 613.3,2664.0 614.7,2663.9 616.1,2663.7 617.5,2663.6 618.9,2663.5 620.3,2663.3 621.7,2663.2 623.1,2663.1 624.5,2662.9 625.9,2662.8 627.2,2662.6 628.6,2662.4 630.0,2662.3 631.4,2662.1 632.8,2662.0 634.2,2661.8 635.6,2661.6 637.0,2661.5 638.4,2661.3 639.8,2661.1 641.2,2661.0 642.6,2660.8 644.0,2660.6 645.4,2660.5 646.8,2660.3 648.2,2660.1 649.6,2660.0 651.0,2659.8 652.4,2659.7 653.8,2659.5 655.2,2659.3 656.6,2659.2 658.0,2659.0 659.3,2658.9 660.7,2658.8 662.1,2658.6 663.5,2658.5 664.9,2658.4 666.3,2658.2 667.7,2658.1 669.1,2658.0 670.5,2657.9 671.9,2657.8 673.3,2657.7 674.7,2657.6 676.1,2657.5 677.5,2657.4 678.9,2657.3 680.3,2657.3 681.7,2657.2 683.1,2657.1 684.5,2657.1 685.9,2657.0 687.3,2656.9 688.7,2656.9 690.1,2656.8 691.5,2656.8 692.8,2656.8 694.2,2656.7 695.6,2656.7 697.0,2656.6 698.4,2656.6 699.8,2656.6 701.2,2656.6 702.6,2656.5 704.0,2656.5 705.4,2656.5 706.8,2656.5 708.2,2656.5 709.6,2656.5 711.0,2656.5 712.4,2656.5 713.8,2656.5 715.2,2656.5 716.6,2656.5 718.0,2656.5 719.4,2656.5 720.8,2656.5 722.2,2656.5 723.6,2656.5 725.0,2656.5 726.3,2656.5 727.7,2656.5 729.1,2656.5 730.5,2656.5 731.9,2656.6 733.3,2656.6 734.7,2656.6 736.1,2656.6 737.5,2656.6 738.9,2656.6 740.3,2656.6 741.7,2656.7 743.1,2656.7 744.5,2656.7 745.9,2656.7 747.3,2656.7 748.7,2656.7 750.1,2656.8 751.5,2656.8 752.9,2656.8 754.3,2656.8 755.7,2656.8 757.1,2656.9 758.4,2656.9 759.8,2656.9 761.2,2656.9 762.6,2657.0 764.0,2657.0 765.4,2657.0 766.8,2657.0 768.2,2657.0 769.6,2657.1 771.0,2657.1 772.4,2657.1 773.8,2657.1 775.2,2657.2 776.6,2657.2 778.0,2657.2 779.4,2657.2 780.8,2657.2 782.2,2657.3 783.6,2657.3 785.0,2657.3 786.4,2657.3 787.8,2657.4 789.2,2657.4 790.6,2657.4 791.9,2657.4 793.3,2657.5 794.7,2657.5 796.1,2657.5 797.5,2657.5 798.9,2657.5 800.3,2657.6 801.7,2657.6 803.1,2657.6 804.5,2657.6 805.9,2657.6 807.3,2657.6 808.7,2657.7 810.1,2657.7 811.5,2657.7 812.9,2657.7 814.3,2657.7 815.7,2657.7 817.1,2657.7 818.5,2657.7 819.9,2657.7 821.3,2657.7 822.7,2657.8 824.0,2657.8 825.4,2657.8 826.8,2657.8 828.2,2657.8 829.6,2657.8 831.0,2657.8 832.4,2657.8 833.8,2657.8 835.2,2657.8 836.6,2657.8 838.0,2657.7 839.4,2657.7 840.8,2657.7 842.2,2657.7 843.6,2657.7 845.0,2657.7 846.4,2657.7 847.8,2657.7 849.2,2657.6 850.6,2657.6 852.0,2657.6 853.4,2657.6 854.8,2657.6 856.2,2657.6 857.5,2657.6 858.9,2657.5 860.3,2657.5 861.7,2657.5 863.1,2657.5 864.5,2657.5 865.9,2657.5 867.3,2657.5 868.7,2657.5 870.1,2657.5 871.5,2657.5 872.9,2657.5 874.3,2657.5 875.7,2657.5 877.1,2657.5 878.5,2657.5 879.9,2657.5 881.3,2657.5 882.7,2657.5 884.1,2657.6 885.5,2657.6 886.9,2657.6 888.3,2657.6 889.6,2657.7 891.0,2657.7 892.4,2657.8 893.8,2657.8 895.2,2657.8 896.6,2657.9 898.0,2658.0 899.4,2658.0 900.8,2658.1 902.2,2658.1 903.6,2658.2 905.0,2658.3 906.4,2658.4 907.8,2658.4 909.2,2658.5 910.6,2658.6 912.0,2658.7 913.4,2658.8 914.8,2658.8 916.2,2658.9 917.6,2659.0 919.0,2659.1 920.4,2659.2 921.8,2659.3 923.1,2659.4 924.5,2659.5 925.9,2659.6 927.3,2659.7 928.7,2659.8 930.1,2659.8 931.5,2659.9 932.9,2660.0 934.3,2660.1 935.7,2660.2 937.1,2660.3 938.5,2660.4 939.9,2660.5 941.3,2660.6 942.7,2660.7 944.1,2660.8 945.5,2660.8 946.9,2660.9 948.3,2661.0 949.7,2661.1 951.1,2661.2 952.5,2661.2 953.9,2661.3 955.2,2661.4 956.6,2661.4 958.0,2661.5 959.4,2661.6 960.8,2661.6 962.2,2661.7 963.6,2661.7 965.0,2661.8 966.4,2661.8 967.8,2661.9 969.2,2661.9 970.6,2662.0 972.0,2662.0 973.4,2662.1 974.8,2662.1 976.2,2662.1 977.6,2662.2 979.0,2662.2 980.4,2662.2 981.8,2662.2 983.2,2662.3 984.6,2662.3 986.0,2662.3 987.4,2662.3 988.7,2662.3 990.1,2662.3 991.5,2662.3 992.9,2662.3 994.3,2662.3 995.7,2662.3 997.1,2662.3 998.5,2662.3 999.9,2662.3 1001.3,2662.3 1002.7,2662.3 1004.1,2662.2 1005.5,2662.2 1006.9,2662.2 1008.3,2662.2 1009.7,2662.1 1011.1,2662.1 1012.5,2662.1 1013.9,2662.0 1015.3,2662.0 1016.7,2662.0 1018.1,2661.9 1019.5,2661.9 1020.8,2661.8 1022.2,2661.8 1023.6,2661.7 1025.0,2661.7 1026.4,2661.6 1027.8,2661.6 1029.2,2661.5 1030.6,2661.5 1032.0,2661.4 1033.4,2661.3 1034.8,2661.3 1036.2,2661.2 1037.6,2661.2 1039.0,2661.1 1040.4,2661.1 1041.8,2661.0 1043.2,2660.9 1044.6,2660.9 1046.0,2660.8 1047.4,2660.8 1048.8,2660.7 1050.2,2660.6 1051.6,2660.6 1053.0,2660.5 1054.3,2660.5 1055.7,2660.4 1057.1,2660.4 1058.5,2660.3 1059.9,2660.2 1061.3,2660.2 1062.7,2660.1 1064.1,2660.1 1065.5,2660.1 1066.9,2660.0 1068.3,2660.0 1069.7,2659.9 1071.1,2659.9 1072.5,2659.8 1073.9,2659.8 1075.3,2659.8 1076.7,2659.7 1078.1,2659.7 1079.5,2659.7 1080.9,2659.6 1082.3,2659.6 1083.7,2659.6 1085.1,2659.5 1086.4,2659.5 1087.8,2659.5 1089.2,2659.5 1090.6,2659.4 1092.0,2659.4 1093.4,2659.4 1094.8,2659.4 1096.2,2659.4 1097.6,2659.3 1099.0,2659.3 1100.4,2659.3 1101.8,2659.3 1103.2,2659.3 1104.6,2659.3 1106.0,2659.3 1107.4,2659.3 1108.8,2659.3 1110.2,2659.3 1111.6,2659.2 1113.0,2659.2 1114.4,2659.2 1115.8,2659.2 1117.2,2659.3 1118.6,2659.3 1119.9,2659.3 1121.3,2659.3 1122.7,2659.3 1124.1,2659.3 1125.5,2659.3 1126.9,2659.3 1128.3,2659.3 1129.7,2659.3 1131.1,2659.4 1132.5,2659.4 1133.9,2659.4 1135.3,2659.4 1136.7,2659.4 1138.1,2659.4 1139.5,2659.5 1140.9,2659.5 1142.3,2659.5 1143.7,2659.5 1145.1,2659.5 1146.5,2659.6 1147.9,2659.6 1149.3,2659.6 1150.7,2659.6 1152.0,2659.7 1153.4,2659.7 1154.8,2659.7 1156.2,2659.7 1157.6,2659.8 1159.0,2659.8 1160.4,2659.8 1161.8,2659.8 1163.2,2659.9 1164.6,2659.9 1166.0,2659.9 1167.4,2659.9 1168.8,2660.0 1170.2,2660.0 1171.6,2660.0 1173.0,2660.0 1174.4,2660.0 1175.8,2660.1 1177.2,2660.1 1178.6,2660.1 1180.0,2660.1 1181.4,2660.2 1182.8,2660.2 1184.2,2660.2 1185.5,2660.2 1186.9,2660.2 1188.3,2660.3 1189.7,2660.3 1191.1,2660.3 1192.5,2660.3 1193.9,2660.3 1195.3,2660.3 1196.7,2660.4 1198.1,2660.4 1199.5,2660.4 1200.9,2660.4 1202.3,2660.4 1203.7,2660.5 1205.1,2660.5 1206.5,2660.5 1207.9,2660.5 1209.3,2660.5 1210.7,2660.5 1212.1,2660.6 1213.5,2660.6 1214.9,2660.6 1216.3,2660.6 1217.6,2660.6 1219.0,2660.6 1220.4,2660.7 1221.8,2660.7 1223.2,2660.7 1224.6,2660.7 1226.0,2660.7 1227.4,2660.8 1228.8,2660.8 1230.2,2660.8 1231.6,2660.8 1233.0,2660.8 1234.4,2660.8 1235.8,2660.9 1237.2,2660.9 1238.6,2660.9 1240.0,2660.9 1241.4,2660.9 1242.8,2661.0 1244.2,2661.0 1245.6,2661.0 1247.0,2661.0 1248.4,2661.0 1249.8,2661.1 1251.1,2661.1 1252.5,2661.1 1253.9,2661.1 1255.3,2661.1 1256.7,2661.2 1258.1,2661.2 1259.5,2661.2 1260.9,2661.2 1262.3,2661.2 1263.7,2661.3 1265.1,2661.3 1266.5,2661.3 1267.9,2661.3 1269.3,2661.3 1270.7,2661.3 1272.1,2661.4 1273.5,2661.4 1274.9,2661.4 1276.3,2661.4 1277.7,2661.4 1279.1,2661.5 1280.5,2661.5 1281.9,2661.5 1283.2,2661.5 1284.6,2661.5 1286.0,2661.5 1287.4,2661.5 1288.8,2661.6 1290.2,2661.6 1291.6,2661.6 1293.0,2661.6 1294.4,2661.6 1295.8,2661.6 1297.2,2661.6 1298.6,2661.7 1300.0,2661.7 1301.4,2661.7 1302.8,2661.7 1304.2,2661.7 1305.6,2661.7 1307.0,2661.7 1308.4,2661.7 1309.8,2661.8 1311.2,2661.8 1312.6,2661.8 1314.0,2661.8 1315.4,2661.8 1316.7,2661.8 1318.1,2661.8 1319.5,2661.8 1320.9,2661.9 1322.3,2661.9 1323.7,2661.9 1325.1,2661.9 1326.5,2661.9 1327.9,2661.9 1329.3,2661.9 1330.7,2661.9 1332.1,2661.9 1333.5,2662.0 1334.9,2662.0 1336.3,2662.0 1337.7,2662.0 1339.1,2662.0 1340.5,2662.0 1341.9,2662.0 1343.3,2662.0 1344.7,2662.0 1346.1,2662.1 1347.5,2662.1 1348.9,2662.1 1350.2,2662.1 1351.6,2662.1 1353.0,2662.1 1354.4,2662.1 1355.8,2662.1 1357.2,2662.2 1358.6,2662.2 1360.0,2662.2 1361.4,2662.2 1362.8,2662.2 1364.2,2662.2 1365.6,2662.2 1367.0,2662.2 1368.4,2662.3 1369.8,2662.3 1371.2,2662.3 1372.6,2662.3 1374.0,2662.3 1375.4,2662.3 1376.8,2662.3 1378.2,2662.3 1379.6,2662.4 1381.0,2662.4 1382.3,2662.4 1383.7,2662.4 1385.1,2662.4 1386.5,2662.4 1387.9,2662.4 1389.3,2662.4 1390.7,2662.5 1392.1,2662.5 1393.5,2662.5 1394.9,2662.5 1396.3,2662.5 1397.7,2662.5 1399.1,2662.5 1400.5,2662.6 1401.9,2662.6 1403.3,2662.6 1404.7,2662.6 1406.1,2662.6 1407.5,2662.6 1408.9,2662.6 1410.3,2662.7 1411.7,2662.7 1413.1,2662.7 1414.5,2662.7 1415.8,2662.7 1417.2,2662.7 1418.6,2662.7 1420.0,2662.7 1421.4,2662.8 1422.8,2662.8 1424.2,2662.8 1425.6,2662.8 1427.0,2662.8 1428.4,2662.8 1429.8,2662.8 1431.2,2662.8 1432.6,2662.9 1434.0,2662.9 1435.4,2662.9 1436.8,2662.9 1438.2,2662.9 1439.6,2662.9 1441.0,2662.9 1442.4,2662.9 1443.8,2663.0 1445.2,2663.0 1446.6,2663.0 1447.9,2663.0 1449.3,2663.0 1450.7,2663.0 1452.1,2663.0 1453.5,2663.0 1454.9,2663.0 1456.3,2663.0 1457.7,2663.0 1459.1,2663.1 1460.5,2663.1 1461.9,2663.1 1463.3,2663.1 1464.7,2663.1 1466.1,2663.1 1467.5,2663.1 1468.9,2663.1 1470.3,2663.1 1471.7,2663.1 1473.1,2663.1 1474.5,2663.1 1475.9,2663.1 1477.3,2663.1 1478.7,2663.1 1480.1,2663.2 1481.4,2663.2 1482.8,2663.2 1484.2,2663.2 1485.6,2663.2 1487.0,2663.2 1488.4,2663.2 1489.8,2663.2 1491.2,2663.2 1492.6,2663.2 1494.0,2663.2 1495.4,2663.2 1496.8,2663.2 1498.2,2663.2 1499.6,2663.2 1501.0,2663.2 1502.4,2663.2 1503.8,2663.2 1505.2,2663.2 1506.6,2663.2 1508.0,2663.3 1509.4,2663.3 1510.8,2663.3 1512.2,2663.3 1513.5,2663.3 1514.9,2663.3 1516.3,2663.3 1517.7,2663.3 1519.1,2663.3 1520.5,2663.3 1521.9,2663.3 1523.3,2663.3 1524.7,2663.3 1526.1,2663.3 1527.5,2663.3 1528.9,2663.3 1530.3,2663.3 1531.7,2663.4 1533.1,2663.4 1534.5,2663.4 1535.9,2663.4 1537.3,2663.4 1538.7,2663.4 1540.1,2663.4 1541.5,2663.4 1542.9,2663.4 1544.3,2663.4 1545.7,2663.4 1547.0,2663.4 1548.4,2663.4 1549.8,2663.4 1551.2,2663.4 1552.6,2663.5 1554.0,2663.5 1555.4,2663.5 1556.8,2663.5 1558.2,2663.5 1559.6,2663.5 1561.0,2663.5 1562.4,2663.5" fill="none" stroke="#515151" stroke-width="7.0" stroke-linejoin="round"/>
<rect x="433.8" y="2654.8" width="24" height="24" fill="#515151"/>
<rect x="489.6" y="2659.0" width="24" height="24" fill="#515151"/>
<rect x="545.5" y="2655.2" width="24" height="24" fill="#515151"/>
<rect x="601.3" y="2652.0" width="24" height="24" fill="#515151"/>
<rect x="657.1" y="2646.0" width="24" height="24" fill="#515151"/>
<rect x="713.0" y="2644.5" width="24" height="24" fill="#515151"/>
<rect x="768.8" y="2645.2" width="24" height="24" fill="#515151"/>
<rect x="824.6" y="2645.8" width="24" height="24" fill="#515151"/>
<rect x="880.4" y="2645.8" width="24" height="24" fill="#515151"/>
<rect x="936.3" y="2649.0" width="24" height="24" fill="#515151"/>
<rect x="992.1" y="2650.2" width="24" height="24" fill="#515151"/>
<rect x="1047.9" y="2648.2" width="24" height="24" fill="#515151"/>
<rect x="1103.8" y="2647.2" width="24" height="24" fill="#515151"/>
<rect x="1159.6" y="2648.0" width="24" height="24" fill="#515151"/>
<rect x="1215.4" y="2648.8" width="24" height="24" fill="#515151"/>
<rect x="1271.2" y="2649.5" width="24" height="24" fill="#515151"/>
<rect x="1327.1" y="2650.0" width="24" height="24" fill="#515151"/>
<rect x="1382.9" y="2650.5" width="24" height="24" fill="#515151"/>
<rect x="1438.7" y="2651.0" width="24" height="24" fill="#515151"/>
<rect x="1494.6" y="2651.2" width="24" height="24" fill="#515151"/>
<rect x="1550.4" y="2651.5" width="24" height="24" fill="#515151"/>
<polyline points="445.8,2651.5 447.2,2651.3 448.6,2651.2 450.0,2651.0 451.4,2650.8 452.8,2650.7 454.2,2650.5 455.6,2650.3 457.0,2650.2 458.4,2650.0 459.8,2649.8 461.2,2649.6 462.5,2649.5 463.9,2649.3 465.3,2649.1 466.7,2648.9 468.1,2648.7 469.5,2648.5 470.9,2648.3 472.3,2648.1 473.7,2647.9 475.1,2647.7 476.5,2647.5 477.9,2647.3 479.3,2647.0 480.7,2646.8 482.1,2646.6 483.5,2646.3 484.9,2646.1 486.3,2645.8 487.7,2645.6 489.1,2645.3 490.5,2645.0 491.9,2644.7 493.3,2644.4 494.7,2644.1 496.0,2643.8 497.4,2643.5 498.8,2643.2 500.2,2642.8 501.6,2642.5 503.0,2642.1 504.4,2641.8 505.8,2641.4 507.2,2641.0 508.6,2640.7 510.0,2640.3 511.4,2639.9 512.8,2639.5 514.2,2639.1 515.6,2638.6 517.0,2638.2 518.4,2637.8 519.8,2637.4 521.2,2636.9 522.6,2636.5 524.0,2636.1 525.4,2635.6 526.8,2635.2 528.1,2634.8 529.5,2634.3 530.9,2633.9 532.3,2633.4 533.7,2633.0 535.1,2632.6 536.5,2632.1 537.9,2631.7 539.3,2631.2 540.7,2630.8 542.1,2630.4 543.5,2630.0 544.9,2629.5 546.3,2629.1 547.7,2628.7 549.1,2628.3 550.5,2627.9 551.9,2627.5 553.3,2627.1 554.7,2626.7 556.1,2626.4 557.5,2626.0 558.9,2625.6 560.3,2625.3 561.6,2625.0 563.0,2624.6 564.4,2624.3 565.8,2624.0 567.2,2623.7 568.6,2623.4 570.0,2623.1 571.4,2622.8 572.8,2622.5 574.2,2622.3 575.6,2622.0 577.0,2621.8 578.4,2621.5 579.8,2621.3 581.2,2621.1 582.6,2620.8 584.0,2620.6 585.4,2620.4 586.8,2620.2 588.2,2620.1 589.6,2619.9 591.0,2619.7 592.4,2619.5 593.7,2619.4 595.1,2619.2 596.5,2619.1 597.9,2619.0 599.3,2618.8 600.7,2618.7 602.1,2618.6 603.5,2618.5 604.9,2618.4 606.3,2618.3 607.7,2618.2 609.1,2618.2 610.5,2618.1 611.9,2618.1 613.3,2618.0 614.7,2618.0 616.1,2617.9 617.5,2617.9 618.9,2617.9 620.3,2617.8 621.7,2617.8 623.1,2617.8 624.5,2617.8 625.9,2617.8 627.2,2617.9 628.6,2617.9 630.0,2617.9 631.4,2618.0 632.8,2618.0 634.2,2618.0 635.6,2618.1 637.0,2618.2 638.4,2618.2 639.8,2618.3 641.2,2618.4 642.6,2618.5 644.0,2618.5 645.4,2618.6 646.8,2618.7 648.2,2618.8 649.6,2619.0 651.0,2619.1 652.4,2619.2 653.8,2619.3 655.2,2619.4 656.6,2619.6 658.0,2619.7 659.3,2619.9 660.7,2620.0 662.1,2620.2 663.5,2620.3 664.9,2620.5 666.3,2620.7 667.7,2620.8 669.1,2621.0 670.5,2621.2 671.9,2621.4 673.3,2621.5 674.7,2621.7 676.1,2621.9 677.5,2622.1 678.9,2622.3 680.3,2622.5 681.7,2622.7 683.1,2622.9 684.5,2623.1 685.9,2623.3 687.3,2623.5 688.7,2623.7 690.1,2623.9 691.5,2624.1 692.8,2624.4 694.2,2624.6 695.6,2624.8 697.0,2624.9 698.4,2625.1 699.8,2625.3 701.2,2625.5 702.6,2625.7 704.0,2625.9 705.4,2626.1 706.8,2626.2 708.2,2626.4 709.6,2626.6 711.0,2626.7 712.4,2626.9 713.8,2627.0 715.2,2627.2 716.6,2627.3 718.0,2627.5 719.4,2627.6 720.8,2627.7 722.2,2627.8 723.6,2627.9 725.0,2628.0 726.3,2628.1 727.7,2628.2 729.1,2628.2 730.5,2628.3 731.9,2628.3 733.3,2628.4 734.7,2628.4 736.1,2628.5 737.5,2628.5 738.9,2628.5 740.3,2628.6 741.7,2628.6 743.1,2628.6 744.5,2628.6 745.9,2628.7 747.3,2628.7 748.7,2628.7 750.1,2628.7 751.5,2628.7 752.9,2628.8 754.3,2628.8 755.7,2628.8 757.1,2628.9 758.4,2628.9 759.8,2628.9 761.2,2629.0 762.6,2629.0 764.0,2629.1 765.4,2629.2 766.8,2629.2 768.2,2629.3 769.6,2629.4 771.0,2629.5 772.4,2629.6 773.8,2629.7 775.2,2629.9 776.6,2630.0 778.0,2630.2 779.4,2630.3 780.8,2630.5 782.2,2630.7 783.6,2630.9 785.0,2631.1 786.4,2631.3 787.8,2631.6 789.2,2631.8 790.6,2632.1 791.9,2632.4 793.3,2632.6 794.7,2632.9 796.1,2633.2 797.5,2633.5 798.9,2633.8 800.3,2634.2 801.7,2634.5 803.1,2634.8 804.5,2635.1 805.9,2635.5 807.3,2635.8 808.7,2636.2 810.1,2636.5 811.5,2636.9 812.9,2637.3 814.3,2637.6 815.7,2638.0 817.1,2638.3 818.5,2638.7 819.9,2639.1 821.3,2639.4 822.7,2639.8 824.0,2640.2 825.4,2640.5 826.8,2640.9 828.2,2641.2 829.6,2641.6 831.0,2641.9 832.4,2642.3 833.8,2642.6 835.2,2642.9 836.6,2643.2 838.0,2643.6 839.4,2643.9 840.8,2644.2 842.2,2644.5 843.6,2644.8 845.0,2645.1 846.4,2645.3 847.8,2645.6 849.2,2645.9 850.6,2646.2 852.0,2646.4 853.4,2646.7 854.8,2646.9 856.2,2647.2 857.5,2647.4 858.9,2647.6 860.3,2647.9 861.7,2648.1 863.1,2648.3 864.5,2648.5 865.9,2648.7 867.3,2648.9 868.7,2649.1 870.1,2649.3 871.5,2649.5 872.9,2649.7 874.3,2649.9 875.7,2650.1 877.1,2650.2 878.5,2650.4 879.9,2650.6 881.3,2650.8 882.7,2650.9 884.1,2651.1 885.5,2651.2 886.9,2651.4 888.3,2651.6 889.6,2651.7 891.0,2651.9 892.4,2652.0 893.8,2652.1 895.2,2652.3 896.6,2652.4 898.0,2652.6 899.4,2652.7 900.8,2652.8 902.2,2653.0 903.6,2653.1 905.0,2653.2 906.4,2653.3 907.8,2653.5 909.2,2653.6 910.6,2653.7 912.0,2653.8 913.4,2653.9 914.8,2654.0 916.2,2654.2 917.6,2654.3 919.0,2654.4 920.4,2654.5 921.8,2654.6 923.1,2654.7 924.5,2654.8 925.9,2654.9 927.3,2655.0 928.7,2655.1 930.1,2655.2 931.5,2655.3 932.9,2655.4 934.3,2655.5 935.7,2655.6 937.1,2655.7 938.5,2655.8 939.9,2655.9 941.3,2656.0 942.7,2656.1 944.1,2656.2 945.5,2656.3 946.9,2656.4 948.3,2656.5 949.7,2656.6 951.1,2656.7 952.5,2656.8 953.9,2656.9 955.2,2657.0 956.6,2657.1 958.0,2657.2 959.4,2657.3 960.8,2657.3 962.2,2657.4 963.6,2657.5 965.0,2657.6 966.4,2657.7 967.8,2657.8 969.2,2657.9 970.6,2658.0 972.0,2658.0 973.4,2658.1 974.8,2658.2 976.2,2658.3 977.6,2658.3 979.0,2658.4 980.4,2658.5 981.8,2658.6 983.2,2658.6 984.6,2658.7 986.0,2658.7 987.4,2658.8 988.7,2658.9 990.1,2658.9 991.5,2659.0 992.9,2659.0 994.3,2659.0 995.7,2659.1 997.1,2659.1 998.5,2659.2 999.9,2659.2 1001.3,2659.2 1002.7,2659.2 1004.1,2659.2 1005.5,2659.3 1006.9,2659.3 1008.3,2659.3 1009.7,2659.3 1011.1,2659.3 1012.5,2659.3 1013.9,2659.3 1015.3,2659.3 1016.7,2659.3 1018.1,2659.2 1019.5,2659.2 1020.8,2659.2 1022.2,2659.2 1023.6,2659.2 1025.0,2659.1 1026.4,2659.1 1027.8,2659.1 1029.2,2659.1 1030.6,2659.0 1032.0,2659.0 1033.4,2659.0 1034.8,2658.9 1036.2,2658.9 1037.6,2658.9 1039.0,2658.9 1040.4,2658.8 1041.8,2658.8 1043.2,2658.8 1044.6,2658.7 1046.0,2658.7 1047.4,2658.7 1048.8,2658.7 1050.2,2658.6 1051.6,2658.6 1053.0,2658.6 1054.3,2658.6 1055.7,2658.5 1057.1,2658.5 1058.5,2658.5 1059.9,2658.5 1061.3,2658.5 1062.7,2658.5 1064.1,2658.5 1065.5,2658.5 1066.9,2658.5 1068.3,2658.5 1069.7,2658.5 1071.1,2658.5 1072.5,2658.5 1073.9,2658.5 1075.3,2658.5 1076.7,2658.5 1078.1,2658.5 1079.5,2658.6 1080.9,2658.6 1082.3,2658.6 1083.7,2658.6 1085.1,2658.6 1086.4,2658.7 1087.8,2658.7 1089.2,2658.7 1090.6,2658.7 1092.0,2658.8 1093.4,2658.8 1094.8,2658.8 1096.2,2658.8 1097.6,2658.9 1099.0,2658.9 1100.4,2658.9 1101.8,2659.0 1103.2,2659.0 1104.6,2659.0 1106.0,2659.1 1107.4,2659.1 1108.8,2659.1 1110.2,2659.1 1111.6,2659.2 1113.0,2659.2 1114.4,2659.2 1115.8,2659.2 1117.2,2659.3 1118.6,2659.3 1119.9,2659.3 1121.3,2659.4 1122.7,2659.4 1124.1,2659.4 1125.5,2659.4 1126.9,2659.4 1128.3,2659.5 1129.7,2659.5 1131.1,2659.5 1132.5,2659.5 1133.9,2659.5 1135.3,2659.6 1136.7,2659.6 1138.1,2659.6 1139.5,2659.6 1140.9,2659.6 1142.3,2659.7 1143.7,2659.7 1145.1,2659.7 1146.5,2659.7 1147.9,2659.7 1149.3,2659.7 1150.7,2659.8 1152.0,2659.8 1153.4,2659.8 1154.8,2659.8 1156.2,2659.8 1157.6,2659.8 1159.0,2659.9 1160.4,2659.9 1161.8,2659.9 1163.2,2659.9 1164.6,2659.9 1166.0,2659.9 1167.4,2660.0 1168.8,2660.0 1170.2,2660.0 1171.6,2660.0 1173.0,2660.0 1174.4,2660.0 1175.8,2660.0 1177.2,2660.1 1178.6,2660.1 1180.0,2660.1 1181.4,2660.1 1182.8,2660.1 1184.2,2660.2 1185.5,2660.2 1186.9,2660.2 1188.3,2660.2 1189.7,2660.2 1191.1,2660.2 1192.5,2660.3 1193.9,2660.3 1195.3,2660.3 1196.7,2660.3 1198.1,2660.3 1199.5,2660.4 1200.9,2660.4 1202.3,2660.4 1203.7,2660.4 1205.1,2660.4 1206.5,2660.5 1207.9,2660.5 1209.3,2660.5 1210.7,2660.5 1212.1,2660.5 1213.5,2660.6 1214.9,2660.6 1216.3,2660.6 1217.6,2660.6 1219.0,2660.6 1220.4,2660.6 1221.8,2660.7 1223.2,2660.7 1224.6,2660.7 1226.0,2660.7 1227.4,2660.8 1228.8,2660.8 1230.2,2660.8 1231.6,2660.8 1233.0,2660.8 1234.4,2660.9 1235.8,2660.9 1237.2,2660.9 1238.6,2660.9 1240.0,2660.9 1241.4,2661.0 1242.8,2661.0 1244.2,2661.0 1245.6,2661.0 1247.0,2661.0 1248.4,2661.1 1249.8,2661.1 1251.1,2661.1 1252.5,2661.1 1253.9,2661.1 1255.3,2661.1 1256.7,2661.2 1258.1,2661.2 1259.5,2661.2 1260.9,2661.2 1262.3,2661.2 1263.7,2661.3 1265.1,2661.3 1266.5,2661.3 1267.9,2661.3 1269.3,2661.3 1270.7,2661.4 1272.1,2661.4 1273.5,2661.4 1274.9,2661.4 1276.3,2661.4 1277.7,2661.4 1279.1,2661.5 1280.5,2661.5 1281.9,2661.5 1283.2,2661.5 1284.6,2661.5 1286.0,2661.5 1287.4,2661.5 1288.8,2661.6 1290.2,2661.6 1291.6,2661.6 1293.0,2661.6 1294.4,2661.6 1295.8,2661.6 1297.2,2661.6 1298.6,2661.7 1300.0,2661.7 1301.4,2661.7 1302.8,2661.7 1304.2,2661.7 1305.6,2661.7 1307.0,2661.7 1308.4,2661.7 1309.8,2661.8 1311.2,2661.8 1312.6,2661.8 1314.0,2661.8 1315.4,2661.8 1316.7,2661.8 1318.1,2661.8 1319.5,2661.8 1320.9,2661.9 1322.3,2661.9 1323.7,2661.9 1325.1,2661.9 1326.5,2661.9 1327.9,2661.9 1329.3,2661.9 1330.7,2661.9 1332.1,2661.9 1333.5,2662.0 1334.9,2662.0 1336.3,2662.0 1337.7,2662.0 1339.1,2662.0 1340.5,2662.0 1341.9,2662.0 1343.3,2662.0 1344.7,2662.0 1346.1,2662.1 1347.5,2662.1 1348.9,2662.1 1350.2,2662.1 1351.6,2662.1 1353.0,2662.1 1354.4,2662.1 1355.8,2662.1 1357.2,2662.2 1358.6,2662.2 1360.0,2662.2 1361.4,2662.2 1362.8,2662.2 1364.2,2662.2 1365.6,2662.2 1367.0,2662.2 1368.4,2662.3 1369.8,2662.3 1371.2,2662.3 1372.6,2662.3 1374.0,2662.3 1375.4,2662.3 1376.8,2662.3 1378.2,2662.3 1379.6,2662.4 1381.0,2662.4 1382.3,2662.4 1383.7,2662.4 1385.1,2662.4 1386.5,2662.4 1387.9,2662.4 1389.3,2662.4 1390.7,2662.5 1392.1,2662.5 1393.5,2662.5 1394.9,2662.5 1396.3,2662.5 1397.7,2662.5 1399.1,2662.5 1400.5,2662.6 1401.9,2662.6 1403.3,2662.6 1404.7,2662.6 1406.1,2662.6 1407.5,2662.6 1408.9,2662.6 1410.3,2662.7 1411.7,2662.7 1413.1,2662.7 1414.5,2662.7 1415.8,2662.7 1417.2,2662.7 1418.6,2662.7 1420.0,2662.7 1421.4,2662.8 1422.8,2662.8 1424.2,2662.8 1425.6,2662.8 1427.0,2662.8 1428.4,2662.8 1429.8,2662.8 1431.2,2662.8 1432.6,2662.9 1434.0,2662.9 1435.4,2662.9 1436.8,2662.9 1438.2,2662.9 1439.6,2662.9 1441.0,2662.9 1442.4,2662.9 1443.8,2663.0 1445.2,2663.0 1446.6,2663.0 1447.9,2663.0 1449.3,2663.0 1450.7,2663.0 1452.1,2663.0 1453.5,2663.0 1454.9,2663.0 1456.3,2663.0 1457.7,2663.0 1459.1,2663.1 1460.5,2663.1 1461.9,2663.1 1463.3,2663.1 1464.7,2663.1 1466.1,2663.1 1467.5,2663.1 1468.9,2663.1 1470.3,2663.1 1471.7,2663.1 1473.1,2663.1 1474.5,2663.1 1475.9,2663.1 1477.3,2663.1 1478.7,2663.1 1480.1,2663.2 1481.4,2663.2 1482.8,2663.2 1484.2,2663.2 1485.6,2663.2 1487.0,2663.2 1488.4,2663.2 1489.8,2663.2 1491.2,2663.2 1492.6,2663.2 1494.0,2663.2 1495.4,2663.2 1496.8,2663.2 1498.2,2663.2 1499.6,2663.2 1501.0,2663.2 1502.4,2663.2 1503.8,2663.2 1505.2,2663.2 1506.6,2663.2 1508.0,2663.3 1509.4,2663.3 1510.8,2663.3 1512.2,2663.3 1513.5,2663.3 1514.9,2663.3 1516.3,2663.3 1517.7,2663.3 1519.1,2663.3 1520.5,2663.3 1521.9,2663.3 1523.3,2663.3 1524.7,2663.3 1526.1,2663.3 1527.5,2663.3 1528.9,2663.3 1530.3,2663.3 1531.7,2663.4 1533.1,2663.4 1534.5,2663.4 1535.9,2663.4 1537.3,2663.4 1538.7,2663.4 1540.1,2663.4 1541.5,2663.4 1542.9,2663.4 1544.3,2663.4 1545.7,2663.4 1547.0,2663.4 1548.4,2663.4 1549.8,2663.4 1551.2,2663.4 1552.6,2663.5 1554.0,2663.5 1555.4,2663.5 1556.8,2663.5 1558.2,2663.5 1559.6,2663.5 1561.0,2663.5 1562.4,2663.5" fill="none" stroke="#fd4040" stroke-width="7.0" stroke-linejoin="round"/>
<ellipse cx="445.8" cy="2651.5" rx="13.4" ry="14.3" fill="#fd4040"/>
<ellipse cx="501.6" cy="2642.5" rx="13.4" ry="14.3" fill="#fd4040"/>
<ellipse cx="557.5" cy="2626.0" rx="13.4" ry="14.3" fill="#fd4040"/>
<ellipse cx="613.3" cy="2618.0" rx="13.4" ry="14.3" fill="#fd4040"/>
<ellipse cx="669.1" cy="2621.0" rx="13.4" ry="14.3" fill="#fd4040"/>
<ellipse cx="725.0" cy="2628.0" rx="13.4" ry="14.3" fill="#fd4040"/>
<ellipse cx="780.8" cy="2630.5" rx="13.4" ry="14.3" fill="#fd4040"/>
<ellipse cx="836.6" cy="2643.2" rx="13.4" ry="14.3" fill="#fd4040"/>
<ellipse cx="892.4" cy="2652.0" rx="13.4" ry="14.3" fill="#fd4040"/>
<ellipse cx="948.3" cy="2656.5" rx="13.4" ry="14.3" fill="#fd4040"/>
<ellipse cx="1004.1" cy="2659.2" rx="13.4" ry="14.3" fill="#fd4040"/>
<ellipse cx="1059.9" cy="2658.5" rx="13.4" ry="14.3" fill="#fd4040"/>
<ellipse cx="1115.8" cy="2659.2" rx="13.4" ry="14.3" fill="#fd4040"/>
<ellipse cx="1171.6" cy="2660.0" rx="13.4" ry="14.3" fill="#fd4040"/>
<ellipse cx="1227.4" cy="2660.8" rx="13.4" ry="14.3" fill="#fd4040"/>
<ellipse cx="1283.2" cy="2661.5" rx="13.4" ry="14.3" fill="#fd4040"/>
<ellipse cx="1339.1" cy="2662.0" rx="13.4" ry="14.3" fill="#fd4040"/>
<ellipse cx="1394.9" cy="2662.5" rx="13.4" ry="14.3" fill="#fd4040"/>
<ellipse cx="1450.7" cy="2663.0" rx="13.4" ry="14.3" fill="#fd4040"/>
<ellipse cx="1506.6" cy="2663.2" rx="13.4" ry="14.3" fill="#fd4040"/>
<ellipse cx="1562.4" cy="2663.5" rx="13.4" ry="14.3" fill="#fd4040"/>
<polyline points="445.8,2642.0 447.2,2641.8 448.6,2641.6 450.0,2641.4 451.4,2641.2 452.8,2641.0 454.2,2640.8 455.6,2640.6 457.0,2640.4 458.4,2640.1 459.8,2639.9 461.2,2639.7 462.5,2639.5 463.9,2639.2 465.3,2639.0 466.7,2638.7 468.1,2638.4 469.5,2638.2 470.9,2637.9 472.3,2637.6 473.7,2637.3 475.1,2637.0 476.5,2636.6 477.9,2636.3 479.3,2635.9 480.7,2635.6 482.1,2635.2 483.5,2634.8 484.9,2634.4 486.3,2633.9 487.7,2633.5 489.1,2633.0 490.5,2632.5 491.9,2632.0 493.3,2631.5 494.7,2631.0 496.0,2630.4 497.4,2629.9 498.8,2629.3 500.2,2628.6 501.6,2628.0 503.0,2627.3 504.4,2626.7 505.8,2625.9 507.2,2625.2 508.6,2624.5 510.0,2623.7 511.4,2622.9 512.8,2622.1 514.2,2621.3 515.6,2620.5 517.0,2619.6 518.4,2618.7 519.8,2617.9 521.2,2617.0 522.6,2616.0 524.0,2615.1 525.4,2614.2 526.8,2613.2 528.1,2612.3 529.5,2611.3 530.9,2610.3 532.3,2609.4 533.7,2608.4 535.1,2607.4 536.5,2606.4 537.9,2605.4 539.3,2604.3 540.7,2603.3 542.1,2602.3 543.5,2601.3 544.9,2600.2 546.3,2599.2 547.7,2598.2 549.1,2597.2 550.5,2596.1 551.9,2595.1 553.3,2594.1 554.7,2593.0 556.1,2592.0 557.5,2591.0 558.9,2590.0 560.3,2589.0 561.6,2588.0 563.0,2587.0 564.4,2586.0 565.8,2585.0 567.2,2584.0 568.6,2583.0 570.0,2582.0 571.4,2581.1 572.8,2580.1 574.2,2579.1 575.6,2578.2 577.0,2577.2 578.4,2576.3 579.8,2575.3 581.2,2574.4 582.6,2573.5 584.0,2572.6 585.4,2571.6 586.8,2570.7 588.2,2569.8 589.6,2568.9 591.0,2568.0 592.4,2567.1 593.7,2566.2 595.1,2565.4 596.5,2564.5 597.9,2563.6 599.3,2562.8 600.7,2561.9 602.1,2561.1 603.5,2560.2 604.9,2559.4 606.3,2558.6 607.7,2557.7 609.1,2556.9 610.5,2556.1 611.9,2555.3 613.3,2554.5 614.7,2553.7 616.1,2552.9 617.5,2552.2 618.9,2551.4 620.3,2550.6 621.7,2549.9 623.1,2549.1 624.5,2548.4 625.9,2547.7 627.2,2547.0 628.6,2546.3 630.0,2545.6 631.4,2544.9 632.8,2544.2 634.2,2543.6 635.6,2543.0 637.0,2542.3 638.4,2541.7 639.8,2541.1 641.2,2540.5 642.6,2540.0 644.0,2539.4 645.4,2538.9 646.8,2538.4 648.2,2537.9 649.6,2537.4 651.0,2536.9 652.4,2536.5 653.8,2536.1 655.2,2535.7 656.6,2535.3 658.0,2534.9 659.3,2534.6 660.7,2534.2 662.1,2533.9 663.5,2533.6 664.9,2533.4 666.3,2533.2 667.7,2532.9 669.1,2532.8 670.5,2532.6 671.9,2532.4 673.3,2532.3 674.7,2532.2 676.1,2532.2 677.5,2532.1 678.9,2532.1 680.3,2532.1 681.7,2532.1 683.1,2532.2 684.5,2532.3 685.9,2532.4 687.3,2532.5 688.7,2532.7 690.1,2532.9 691.5,2533.1 692.8,2533.3 694.2,2533.6 695.6,2533.8 697.0,2534.2 698.4,2534.5 699.8,2534.9 701.2,2535.3 702.6,2535.7 704.0,2536.1 705.4,2536.6 706.8,2537.1 708.2,2537.6 709.6,2538.1 711.0,2538.7 712.4,2539.3 713.8,2540.0 715.2,2540.6 716.6,2541.3 718.0,2542.0 719.4,2542.8 720.8,2543.5 722.2,2544.3 723.6,2545.1 725.0,2546.0 726.3,2546.9 727.7,2547.8 729.1,2548.7 730.5,2549.7 731.9,2550.7 733.3,2551.7 734.7,2552.7 736.1,2553.7 737.5,2554.8 738.9,2555.9 740.3,2557.0 741.7,2558.1 743.1,2559.2 744.5,2560.4 745.9,2561.5 747.3,2562.7 748.7,2563.9 750.1,2565.1 751.5,2566.3 752.9,2567.5 754.3,2568.7 755.7,2569.9 757.1,2571.2 758.4,2572.4 759.8,2573.6 761.2,2574.9 762.6,2576.1 764.0,2577.4 765.4,2578.6 766.8,2579.8 768.2,2581.0 769.6,2582.3 771.0,2583.5 772.4,2584.7 773.8,2585.9 775.2,2587.1 776.6,2588.3 778.0,2589.4 779.4,2590.6 780.8,2591.8 782.2,2592.9 783.6,2594.0 785.0,2595.1 786.4,2596.2 787.8,2597.3 789.2,2598.3 790.6,2599.4 791.9,2600.4 793.3,2601.4 794.7,2602.4 796.1,2603.4 797.5,2604.4 798.9,2605.4 800.3,2606.4 801.7,2607.3 803.1,2608.2 804.5,2609.2 805.9,2610.1 807.3,2611.0 808.7,2611.8 810.1,2612.7 811.5,2613.6 812.9,2614.4 814.3,2615.3 815.7,2616.1 817.1,2616.9 818.5,2617.7 819.9,2618.5 821.3,2619.3 822.7,2620.1 824.0,2620.8 825.4,2621.6 826.8,2622.3 828.2,2623.1 829.6,2623.8 831.0,2624.5 832.4,2625.2 833.8,2625.9 835.2,2626.6 836.6,2627.2 838.0,2627.9 839.4,2628.6 840.8,2629.2 842.2,2629.9 843.6,2630.5 845.0,2631.1 846.4,2631.7 847.8,2632.3 849.2,2632.9 850.6,2633.5 852.0,2634.1 853.4,2634.6 854.8,2635.2 856.2,2635.7 857.5,2636.3 858.9,2636.8 860.3,2637.3 861.7,2637.8 863.1,2638.3 864.5,2638.8 865.9,2639.3 867.3,2639.8 868.7,2640.2 870.1,2640.7 871.5,2641.1 872.9,2641.5 874.3,2642.0 875.7,2642.4 877.1,2642.8 878.5,2643.2 879.9,2643.5 881.3,2643.9 882.7,2644.3 884.1,2644.6 885.5,2645.0 886.9,2645.3 888.3,2645.6 889.6,2645.9 891.0,2646.2 892.4,2646.5 893.8,2646.8 895.2,2647.0 896.6,2647.3 898.0,2647.5 899.4,2647.8 900.8,2648.0 902.2,2648.2 903.6,2648.5 905.0,2648.7 906.4,2648.9 907.8,2649.0 909.2,2649.2 910.6,2649.4 912.0,2649.6 913.4,2649.7 914.8,2649.9 916.2,2650.0 917.6,2650.2 919.0,2650.3 920.4,2650.5 921.8,2650.6 923.1,2650.7 924.5,2650.9 925.9,2651.0 927.3,2651.1 928.7,2651.2 930.1,2651.3 931.5,2651.5 932.9,2651.6 934.3,2651.7 935.7,2651.8 937.1,2651.9 938.5,2652.0 939.9,2652.1 941.3,2652.2 942.7,2652.3 944.1,2652.4 945.5,2652.5 946.9,2652.6 948.3,2652.8 949.7,2652.9 951.1,2653.0 952.5,2653.1 953.9,2653.2 955.2,2653.3 956.6,2653.4 958.0,2653.6 959.4,2653.7 960.8,2653.8 962.2,2653.9 963.6,2654.1 965.0,2654.2 966.4,2654.3 967.8,2654.4 969.2,2654.6 970.6,2654.7 972.0,2654.8 973.4,2654.9 974.8,2655.1 976.2,2655.2 977.6,2655.3 979.0,2655.4 980.4,2655.5 981.8,2655.7 983.2,2655.8 984.6,2655.9 986.0,2656.0 987.4,2656.1 988.7,2656.2 990.1,2656.3 991.5,2656.4 992.9,2656.5 994.3,2656.6 995.7,2656.7 997.1,2656.8 998.5,2656.9 999.9,2657.0 1001.3,2657.1 1002.7,2657.2 1004.1,2657.2 1005.5,2657.3 1006.9,2657.4 1008.3,2657.5 1009.7,2657.5 1011.1,2657.6 1012.5,2657.6 1013.9,2657.7 1015.3,2657.8 1016.7,2657.8 1018.1,2657.9 1019.5,2657.9 1020.8,2657.9 1022.2,2658.0 1023.6,2658.0 1025.0,2658.0 1026.4,2658.1 1027.8,2658.1 1029.2,2658.1 1030.6,2658.2 1032.0,2658.2 1033.4,2658.2 1034.8,2658.2 1036.2,2658.3 1037.6,2658.3 1039.0,2658.3 1040.4,2658.3 1041.8,2658.3 1043.2,2658.3 1044.6,2658.4 1046.0,2658.4 1047.4,2658.4 1048.8,2658.4 1050.2,2658.4 1051.6,2658.4 1053.0,2658.4 1054.3,2658.4 1055.7,2658.5 1057.1,2658.5 1058.5,2658.5 1059.9,2658.5 1061.3,2658.5 1062.7,2658.5 1064.1,2658.5 1065.5,2658.6 1066.9,2658.6 1068.3,2658.6 1069.7,2658.6 1071.1,2658.6 1072.5,2658.6 1073.9,2658.7 1075.3,2658.7 1076.7,2658.7 1078.1,2658.7 1079.5,2658.7 1080.9,2658.7 1082.3,2658.8 1083.7,2658.8 1085.1,2658.8 1086.4,2658.8 1087.8,2658.8 1089.2,2658.9 1090.6,2658.9 1092.0,2658.9 1093.4,2658.9 1094.8,2658.9 1096.2,2659.0 1097.6,2659.0 1099.0,2659.0 1100.4,2659.0 1101.8,2659.0 1103.2,2659.1 1104.6,2659.1 1106.0,2659.1 1107.4,2659.1 1108.8,2659.1 1110.2,2659.2 1111.6,2659.2 1113.0,2659.2 1114.4,2659.2 1115.8,2659.2 1117.2,2659.3 1118.6,2659.3 1119.9,2659.3 1121.3,2659.3 1122.7,2659.3 1124.1,2659.4 1125.5,2659.4 1126.9,2659.4 1128.3,2659.4 1129.7,2659.4 1131.1,2659.5 1132.5,2659.5 1133.9,2659.5 1135.3,2659.5 1136.7,2659.5 1138.1,2659.6 1139.5,2659.6 1140.9,2659.6 1142.3,2659.6 1143.7,2659.6 1145.1,2659.7 1146.5,2659.7 1147.9,2659.7 1149.3,2659.7 1150.7,2659.7 1152.0,2659.7 1153.4,2659.8 1154.8,2659.8 1156.2,2659.8 1157.6,2659.8 1159.0,2659.8 1160.4,2659.9 1161.8,2659.9 1163.2,2659.9 1164.6,2659.9 1166.0,2659.9 1167.4,2659.9 1168.8,2660.0 1170.2,2660.0 1171.6,2660.0 1173.0,2660.0 1174.4,2660.0 1175.8,2660.1 1177.2,2660.1 1178.6,2660.1 1180.0,2660.1 1181.4,2660.1 1182.8,2660.1 1184.2,2660.2 1185.5,2660.2 1186.9,2660.2 1188.3,2660.2 1189.7,2660.2 1191.1,2660.3 1192.5,2660.3 1193.9,2660.3 1195.3,2660.3 1196.7,2660.3 1198.1,2660.3 1199.5,2660.4 1200.9,2660.4 1202.3,2660.4 1203.7,2660.4 1205.1,2660.4 1206.5,2660.5 1207.9,2660.5 1209.3,2660.5 1210.7,2660.5 1212.1,2660.5 1213.5,2660.6 1214.9,2660.6 1216.3,2660.6 1217.6,2660.6 1219.0,2660.6 1220.4,2660.7 1221.8,2660.7 1223.2,2660.7 1224.6,2660.7 1226.0,2660.7 1227.4,2660.8 1228.8,2660.8 1230.2,2660.8 1231.6,2660.8 1233.0,2660.8 1234.4,2660.8 1235.8,2660.9 1237.2,2660.9 1238.6,2660.9 1240.0,2660.9 1241.4,2660.9 1242.8,2661.0 1244.2,2661.0 1245.6,2661.0 1247.0,2661.0 1248.4,2661.0 1249.8,2661.1 1251.1,2661.1 1252.5,2661.1 1253.9,2661.1 1255.3,2661.1 1256.7,2661.2 1258.1,2661.2 1259.5,2661.2 1260.9,2661.2 1262.3,2661.2 1263.7,2661.3 1265.1,2661.3 1266.5,2661.3 1267.9,2661.3 1269.3,2661.3 1270.7,2661.3 1272.1,2661.4 1273.5,2661.4 1274.9,2661.4 1276.3,2661.4 1277.7,2661.4 1279.1,2661.5 1280.5,2661.5 1281.9,2661.5 1283.2,2661.5 1284.6,2661.5 1286.0,2661.5 1287.4,2661.5 1288.8,2661.6 1290.2,2661.6 1291.6,2661.6 1293.0,2661.6 1294.4,2661.6 1295.8,2661.6 1297.2,2661.6 1298.6,2661.7 1300.0,2661.7 1301.4,2661.7 1302.8,2661.7 1304.2,2661.7 1305.6,2661.7 1307.0,2661.7 1308.4,2661.7 1309.8,2661.8 1311.2,2661.8 1312.6,2661.8 1314.0,2661.8 1315.4,2661.8 1316.7,2661.8 1318.1,2661.8 1319.5,2661.8 1320.9,2661.9 1322.3,2661.9 1323.7,2661.9 1325.1,2661.9 1326.5,2661.9 1327.9,2661.9 1329.3,2661.9 1330.7,2661.9 1332.1,2661.9 1333.5,2662.0 1334.9,2662.0 1336.3,2662.0 1337.7,2662.0 1339.1,2662.0 1340.5,2662.0 1341.9,2662.0 1343.3,2662.0 1344.7,2662.0 1346.1,2662.1 1347.5,2662.1 1348.9,2662.1 1350.2,2662.1 1351.6,2662.1 1353.0,2662.1 1354.4,2662.1 1355.8,2662.1 1357.2,2662.2 1358.6,2662.2 1360.0,2662.2 1361.4,2662.2 1362.8,2662.2 1364.2,2662.2 1365.6,2662.2 1367.0,2662.2 1368.4,2662.3 1369.8,2662.3 1371.2,2662.3 1372.6,2662.3 1374.0,2662.3 1375.4,2662.3 1376.8,2662.3 1378.2,2662.3 1379.6,2662.4 1381.0,2662.4 1382.3,2662.4 1383.7,2662.4 1385.1,2662.4 1386.5,2662.4 1387.9,2662.4 1389.3,2662.4 1390.7,2662.5 1392.1,2662.5 1393.5,2662.5 1394.9,2662.5 1396.3,2662.5 1397.7,2662.5 1399.1,2662.5 1400.5,2662.6 1401.9,2662.6 1403.3,2662.6 1404.7,2662.6 1406.1,2662.6 1407.5,2662.6 1408.9,2662.6 1410.3,2662.7 1411.7,2662.7 1413.1,2662.7 1414.5,2662.7 1415.8,2662.7 1417.2,2662.7 1418.6,2662.7 1420.0,2662.7 1421.4,2662.8 1422.8,2662.8 1424.2,2662.8 1425.6,2662.8 1427.0,2662.8 1428.4,2662.8 1429.8,2662.8 1431.2,2662.8 1432.6,2662.9 1434.0,2662.9 1435.4,2662.9 1436.8,2662.9 1438.2,2662.9 1439.6,2662.9 1441.0,2662.9 1442.4,2662.9 1443.8,2663.0 1445.2,2663.0 1446.6,2663.0 1447.9,2663.0 1449.3,2663.0 1450.7,2663.0 1452.1,2663.0 1453.5,2663.0 1454.9,2663.0 1456.3,2663.0 1457.7,2663.0 1459.1,2663.1 1460.5,2663.1 1461.9,2663.1 1463.3,2663.1 1464.7,2663.1 1466.1,2663.1 1467.5,2663.1 1468.9,2663.1 1470.3,2663.1 1471.7,2663.1 1473.1,2663.1 1474.5,2663.1 1475.9,2663.1 1477.3,2663.1 1478.7,2663.1 1480.1,2663.2 1481.4,2663.2 1482.8,2663.2 1484.2,2663.2 1485.6,2663.2 1487.0,2663.2 1488.4,2663.2 1489.8,2663.2 1491.2,2663.2 1492.6,2663.2 1494.0,2663.2 1495.4,2663.2 1496.8,2663.2 1498.2,2663.2 1499.6,2663.2 1501.0,2663.2 1502.4,2663.2 1503.8,2663.2 1505.2,2663.2 1506.6,2663.2 1508.0,2663.3 1509.4,2663.3 1510.8,2663.3 1512.2,2663.3 1513.5,2663.3 1514.9,2663.3 1516.3,2663.3 1517.7,2663.3 1519.1,2663.3 1520.5,2663.3 1521.9,2663.3 1523.3,2663.3 1524.7,2663.3 1526.1,2663.3 1527.5,2663.3 1528.9,2663.3 1530.3,2663.3 1531.7,2663.4 1533.1,2663.4 1534.5,2663.4 1535.9,2663.4 1537.3,2663.4 1538.7,2663.4 1540.1,2663.4 1541.5,2663.4 1542.9,2663.4 1544.3,2663.4 1545.7,2663.4 1547.0,2663.4 1548.4,2663.4 1549.8,2663.4 1551.2,2663.4 1552.6,2663.5 1554.0,2663.5 1555.4,2663.5 1556.8,2663.5 1558.2,2663.5 1559.6,2663.5 1561.0,2663.5 1562.4,2663.5" fill="none" stroke="#0066dd" stroke-width="7.0" stroke-linejoin="round"/>
<polygon points="445.8,2623.3 461.3,2651.3 430.3,2651.3" fill="#0066dd"/>
<polygon points="501.6,2609.3 517.1,2637.3 486.1,2637.3" fill="#0066dd"/>
<polygon points="557.5,2572.3 573.0,2600.3 542.0,2600.3" fill="#0066dd"/>
<polygon points="613.3,2535.8 628.8,2563.8 597.8,2563.8" fill="#0066dd"/>
<polygon points="669.1,2514.1 684.6,2542.1 653.6,2542.1" fill="#0066dd"/>
<polygon points="725.0,2527.3 740.5,2555.3 709.5,2555.3" fill="#0066dd"/>
<polygon points="780.8,2573.1 796.3,2601.1 765.3,2601.1" fill="#0066dd"/>
<polygon points="836.6,2608.6 852.1,2636.6 821.1,2636.6" fill="#0066dd"/>
<polygon points="892.4,2627.8 907.9,2655.8 876.9,2655.8" fill="#0066dd"/>
<polygon points="948.3,2634.1 963.8,2662.1 932.8,2662.1" fill="#0066dd"/>
<polygon points="1004.1,2638.6 1019.6,2666.6 988.6,2666.6" fill="#0066dd"/>
<polygon points="1059.9,2639.8 1075.4,2667.8 1044.4,2667.8" fill="#0066dd"/>
<polygon points="1115.8,2640.6 1131.3,2668.6 1100.3,2668.6" fill="#0066dd"/>
<polygon points="1171.6,2641.3 1187.1,2669.3 1156.1,2669.3" fill="#0066dd"/>
<polygon points="1227.4,2642.1 1242.9,2670.1 1211.9,2670.1" fill="#0066dd"/>
<polygon points="1283.2,2642.8 1298.8,2670.8 1267.8,2670.8" fill="#0066dd"/>
<polygon points="1339.1,2643.3 1354.6,2671.3 1323.6,2671.3" fill="#0066dd"/>
<polygon points="1394.9,2643.8 1410.4,2671.8 1379.4,2671.8" fill="#0066dd"/>
<polygon points="1450.7,2644.3 1466.2,2672.3 1435.2,2672.3" fill="#0066dd"/>
<polygon points="1506.6,2644.6 1522.1,2672.6 1491.1,2672.6" fill="#0066dd"/>
<polygon points="1562.4,2644.8 1577.9,2672.8 1546.9,2672.8" fill="#0066dd"/>
<polyline points="445.8,2691.5 447.2,2691.5 448.6,2691.4 450.0,2691.4 451.4,2691.4 452.8,2691.3 454.2,2691.3 455.6,2691.3 457.0,2691.2 458.4,2691.2 459.8,2691.2 461.2,2691.1 462.5,2691.1 463.9,2691.0 465.3,2691.0 466.7,2690.9 468.1,2690.9 469.5,2690.8 470.9,2690.7 472.3,2690.7 473.7,2690.6 475.1,2690.5 476.5,2690.4 477.9,2690.3 479.3,2690.2 480.7,2690.1 482.1,2690.0 483.5,2689.9 484.9,2689.8 486.3,2689.7 487.7,2689.5 489.1,2689.4 490.5,2689.2 491.9,2689.1 493.3,2688.9 494.7,2688.7 496.0,2688.6 497.4,2688.4 498.8,2688.2 500.2,2688.0 501.6,2687.8 503.0,2687.5 504.4,2687.3 505.8,2687.0 507.2,2686.8 508.6,2686.5 510.0,2686.3 511.4,2686.0 512.8,2685.7 514.2,2685.4 515.6,2685.1 517.0,2684.7 518.4,2684.4 519.8,2684.1 521.2,2683.7 522.6,2683.4 524.0,2683.0 525.4,2682.6 526.8,2682.2 528.1,2681.8 529.5,2681.4 530.9,2681.0 532.3,2680.6 533.7,2680.2 535.1,2679.7 536.5,2679.2 537.9,2678.8 539.3,2678.3 540.7,2677.8 542.1,2677.3 543.5,2676.8 544.9,2676.3 546.3,2675.8 547.7,2675.3 549.1,2674.7 550.5,2674.2 551.9,2673.6 553.3,2673.0 554.7,2672.4 556.1,2671.9 557.5,2671.2 558.9,2670.6 560.3,2670.0 561.6,2669.4 563.0,2668.7 564.4,2668.1 565.8,2667.4 567.2,2666.8 568.6,2666.1 570.0,2665.4 571.4,2664.7 572.8,2664.0 574.2,2663.3 575.6,2662.6 577.0,2661.9 578.4,2661.2 579.8,2660.5 581.2,2659.7 582.6,2659.0 584.0,2658.2 585.4,2657.5 586.8,2656.7 588.2,2656.0 589.6,2655.2 591.0,2654.4 592.4,2653.7 593.7,2652.9 595.1,2652.1 596.5,2651.3 597.9,2650.5 599.3,2649.7 600.7,2648.9 602.1,2648.2 603.5,2647.4 604.9,2646.6 606.3,2645.8 607.7,2645.0 609.1,2644.2 610.5,2643.4 611.9,2642.6 613.3,2641.8 614.7,2640.9 616.1,2640.1 617.5,2639.3 618.9,2638.5 620.3,2637.7 621.7,2636.8 623.1,2635.9 624.5,2635.1 625.9,2634.1 627.2,2633.2 628.6,2632.2 630.0,2631.2 631.4,2630.2 632.8,2629.1 634.2,2627.9 635.6,2626.8 637.0,2625.5 638.4,2624.3 639.8,2622.9 641.2,2621.5 642.6,2620.1 644.0,2618.6 645.4,2617.0 646.8,2615.3 648.2,2613.6 649.6,2611.8 651.0,2609.9 652.4,2607.9 653.8,2605.8 655.2,2603.7 656.6,2601.4 658.0,2599.1 659.3,2596.6 660.7,2594.1 662.1,2591.4 663.5,2588.7 664.9,2585.8 666.3,2582.8 667.7,2579.7 669.1,2576.5 670.5,2573.2 671.9,2569.7 673.3,2566.1 674.7,2562.4 676.1,2558.6 677.5,2554.6 678.9,2550.6 680.3,2546.5 681.7,2542.2 683.1,2537.9 684.5,2533.5 685.9,2528.9 687.3,2524.3 688.7,2519.6 690.1,2514.8 691.5,2509.9 692.8,2504.9 694.2,2499.9 695.6,2494.8 697.0,2489.6 698.4,2484.4 699.8,2479.0 701.2,2473.7 702.6,2468.2 704.0,2462.7 705.4,2457.1 706.8,2451.5 708.2,2445.9 709.6,2440.2 711.0,2434.4 712.4,2428.6 713.8,2422.8 715.2,2416.9 716.6,2411.0 718.0,2405.1 719.4,2399.1 720.8,2393.1 722.2,2387.1 723.6,2381.1 725.0,2375.0 726.3,2368.9 727.7,2362.9 729.1,2356.8 730.5,2350.7 731.9,2344.6 733.3,2338.5 734.7,2332.5 736.1,2326.5 737.5,2320.4 738.9,2314.4 740.3,2308.5 741.7,2302.5 743.1,2296.7 744.5,2290.8 745.9,2285.0 747.3,2279.3 748.7,2273.6 750.1,2268.0 751.5,2262.4 752.9,2256.9 754.3,2251.5 755.7,2246.2 757.1,2240.9 758.4,2235.8 759.8,2230.7 761.2,2225.7 762.6,2220.9 764.0,2216.1 765.4,2211.5 766.8,2206.9 768.2,2202.5 769.6,2198.2 771.0,2194.1 772.4,2190.1 773.8,2186.2 775.2,2182.4 776.6,2178.9 778.0,2175.4 779.4,2172.1 780.8,2169.0 782.2,2166.0 783.6,2163.3 785.0,2160.8 786.4,2158.6 787.8,2156.7 789.2,2155.1 790.6,2154.0 791.9,2153.2 793.3,2153.0 794.7,2153.2 796.1,2154.0 797.5,2155.2 798.9,2156.8 800.3,2158.9 801.7,2161.4 803.1,2164.4 804.5,2167.7 805.9,2171.3 807.3,2175.4 808.7,2179.7 810.1,2184.4 811.5,2189.4 812.9,2194.7 814.3,2200.3 815.7,2206.1 817.1,2212.1 818.5,2218.4 819.9,2224.9 821.3,2231.6 822.7,2238.5 824.0,2245.5 825.4,2252.7 826.8,2259.9 828.2,2267.4 829.6,2274.9 831.0,2282.4 832.4,2290.1 833.8,2297.8 835.2,2305.5 836.6,2313.2 838.0,2321.0 839.4,2328.7 840.8,2336.4 842.2,2344.2 843.6,2351.9 845.0,2359.5 846.4,2367.2 847.8,2374.8 849.2,2382.3 850.6,2389.9 852.0,2397.4 853.4,2404.8 854.8,2412.2 856.2,2419.5 857.5,2426.8 858.9,2434.0 860.3,2441.1 861.7,2448.1 863.1,2455.1 864.5,2462.0 865.9,2468.8 867.3,2475.5 868.7,2482.1 870.1,2488.6 871.5,2495.0 872.9,2501.3 874.3,2507.5 875.7,2513.5 877.1,2519.4 878.5,2525.2 879.9,2530.9 881.3,2536.4 882.7,2541.8 884.1,2547.1 885.5,2552.2 886.9,2557.1 888.3,2561.9 889.6,2566.5 891.0,2571.0 892.4,2575.2 893.8,2579.4 895.2,2583.3 896.6,2587.1 898.0,2590.7 899.4,2594.1 900.8,2597.4 902.2,2600.5 903.6,2603.5 905.0,2606.4 906.4,2609.1 907.8,2611.7 909.2,2614.1 910.6,2616.4 912.0,2618.6 913.4,2620.7 914.8,2622.6 916.2,2624.5 917.6,2626.2 919.0,2627.9 920.4,2629.4 921.8,2630.9 923.1,2632.2 924.5,2633.5 925.9,2634.7 927.3,2635.8 928.7,2636.8 930.1,2637.8 931.5,2638.7 932.9,2639.6 934.3,2640.4 935.7,2641.1 937.1,2641.8 938.5,2642.4 939.9,2643.0 941.3,2643.6 942.7,2644.1 944.1,2644.6 945.5,2645.1 946.9,2645.6 948.3,2646.0 949.7,2646.4 951.1,2646.8 952.5,2647.3 953.9,2647.6 955.2,2648.0 956.6,2648.4 958.0,2648.8 959.4,2649.1 960.8,2649.5 962.2,2649.8 963.6,2650.1 965.0,2650.4 966.4,2650.7 967.8,2651.0 969.2,2651.3 970.6,2651.6 972.0,2651.8 973.4,2652.1 974.8,2652.3 976.2,2652.6 977.6,2652.8 979.0,2653.0 980.4,2653.3 981.8,2653.5 983.2,2653.7 984.6,2653.9 986.0,2654.1 987.4,2654.2 988.7,2654.4 990.1,2654.6 991.5,2654.8 992.9,2654.9 994.3,2655.1 995.7,2655.2 997.1,2655.4 998.5,2655.5 999.9,2655.6 1001.3,2655.8 1002.7,2655.9 1004.1,2656.0 1005.5,2656.1 1006.9,2656.2 1008.3,2656.3 1009.7,2656.4 1011.1,2656.5 1012.5,2656.6 1013.9,2656.7 1015.3,2656.8 1016.7,2656.9 1018.1,2657.0 1019.5,2657.1 1020.8,2657.2 1022.2,2657.2 1023.6,2657.3 1025.0,2657.4 1026.4,2657.5 1027.8,2657.5 1029.2,2657.6 1030.6,2657.6 1032.0,2657.7 1033.4,2657.8 1034.8,2657.8 1036.2,2657.9 1037.6,2657.9 1039.0,2658.0 1040.4,2658.0 1041.8,2658.1 1043.2,2658.1 1044.6,2658.1 1046.0,2658.2 1047.4,2658.2 1048.8,2658.3 1050.2,2658.3 1051.6,2658.3 1053.0,2658.4 1054.3,2658.4 1055.7,2658.4 1057.1,2658.4 1058.5,2658.5 1059.9,2658.5 1061.3,2658.5 1062.7,2658.6 1064.1,2658.6 1065.5,2658.6 1066.9,2658.6 1068.3,2658.7 1069.7,2658.7 1071.1,2658.7 1072.5,2658.7 1073.9,2658.7 1075.3,2658.8 1076.7,2658.8 1078.1,2658.8 1079.5,2658.8 1080.9,2658.8 1082.3,2658.9 1083.7,2658.9 1085.1,2658.9 1086.4,2658.9 1087.8,2658.9 1089.2,2658.9 1090.6,2659.0 1092.0,2659.0 1093.4,2659.0 1094.8,2659.0 1096.2,2659.0 1097.6,2659.0 1099.0,2659.1 1100.4,2659.1 1101.8,2659.1 1103.2,2659.1 1104.6,2659.1 1106.0,2659.1 1107.4,2659.2 1108.8,2659.2 1110.2,2659.2 1111.6,2659.2 1113.0,2659.2 1114.4,2659.2 1115.8,2659.2 1117.2,2659.3 1118.6,2659.3 1119.9,2659.3 1121.3,2659.3 1122.7,2659.3 1124.1,2659.4 1125.5,2659.4 1126.9,2659.4 1128.3,2659.4 1129.7,2659.4 1131.1,2659.4 1132.5,2659.5 1133.9,2659.5 1135.3,2659.5 1136.7,2659.5 1138.1,2659.5 1139.5,2659.6 1140.9,2659.6 1142.3,2659.6 1143.7,2659.6 1145.1,2659.6 1146.5,2659.7 1147.9,2659.7 1149.3,2659.7 1150.7,2659.7 1152.0,2659.7 1153.4,2659.7 1154.8,2659.8 1156.2,2659.8 1157.6,2659.8 1159.0,2659.8 1160.4,2659.8 1161.8,2659.9 1163.2,2659.9 1164.6,2659.9 1166.0,2659.9 1167.4,2659.9 1168.8,2660.0 1170.2,2660.0 1171.6,2660.0 1173.0,2660.0 1174.4,2660.0 1175.8,2660.1 1177.2,2660.1 1178.6,2660.1 1180.0,2660.1 1181.4,2660.1 1182.8,2660.2 1184.2,2660.2 1185.5,2660.2 1186.9,2660.2 1188.3,2660.2 1189.7,2660.2 1191.1,2660.3 1192.5,2660.3 1193.9,2660.3 1195.3,2660.3 1196.7,2660.3 1198.1,2660.4 1199.5,2660.4 1200.9,2660.4 1202.3,2660.4 1203.7,2660.4 1205.1,2660.4 1206.5,2660.5 1207.9,2660.5 1209.3,2660.5 1210.7,2660.5 1212.1,2660.5 1213.5,2660.6 1214.9,2660.6 1216.3,2660.6 1217.6,2660.6 1219.0,2660.6 1220.4,2660.7 1221.8,2660.7 1223.2,2660.7 1224.6,2660.7 1226.0,2660.7 1227.4,2660.8 1228.8,2660.8 1230.2,2660.8 1231.6,2660.8 1233.0,2660.8 1234.4,2660.8 1235.8,2660.9 1237.2,2660.9 1238.6,2660.9 1240.0,2660.9 1241.4,2660.9 1242.8,2661.0 1244.2,2661.0 1245.6,2661.0 1247.0,2661.0 1248.4,2661.0 1249.8,2661.1 1251.1,2661.1 1252.5,2661.1 1253.9,2661.1 1255.3,2661.1 1256.7,2661.2 1258.1,2661.2 1259.5,2661.2 1260.9,2661.2 1262.3,2661.2 1263.7,2661.3 1265.1,2661.3 1266.5,2661.3 1267.9,2661.3 1269.3,2661.3 1270.7,2661.3 1272.1,2661.4 1273.5,2661.4 1274.9,2661.4 1276.3,2661.4 1277.7,2661.4 1279.1,2661.5 1280.5,2661.5 1281.9,2661.5 1283.2,2661.5 1284.6,2661.5 1286.0,2661.5 1287.4,2661.5 1288.8,2661.6 1290.2,2661.6 1291.6,2661.6 1293.0,2661.6 1294.4,2661.6 1295.8,2661.6 1297.2,2661.6 1298.6,2661.7 1300.0,2661.7 1301.4,2661.7 1302.8,2661.7 1304.2,2661.7 1305.6,2661.7 1307.0,2661.7 1308.4,2661.7 1309.8,2661.8 1311.2,2661.8 1312.6,2661.8 1314.0,2661.8 1315.4,2661.8 1316.7,2661.8 1318.1,2661.8 1319.5,2661.8 1320.9,2661.9 1322.3,2661.9 1323.7,2661.9 1325.1,2661.9 1326.5,2661.9 1327.9,2661.9 1329.3,2661.9 1330.7,2661.9 1332.1,2661.9 1333.5,2662.0 1334.9,2662.0 1336.3,2662.0 1337.7,2662.0 1339.1,2662.0 1340.5,2662.0 1341.9,2662.0 1343.3,2662.0 1344.7,2662.0 1346.1,2662.1 1347.5,2662.1 1348.9,2662.1 1350.2,2662.1 1351.6,2662.1 1353.0,2662.1 1354.4,2662.1 1355.8,2662.1 1357.2,2662.2 1358.6,2662.2 1360.0,2662.2 1361.4,2662.2 1362.8,2662.2 1364.2,2662.2 1365.6,2662.2 1367.0,2662.2 1368.4,2662.3 1369.8,2662.3 1371.2,2662.3 1372.6,2662.3 1374.0,2662.3 1375.4,2662.3 1376.8,2662.3 1378.2,2662.3 1379.6,2662.4 1381.0,2662.4 1382.3,2662.4 1383.7,2662.4 1385.1,2662.4 1386.5,2662.4 1387.9,2662.4 1389.3,2662.4 1390.7,2662.5 1392.1,2662.5 1393.5,2662.5 1394.9,2662.5 1396.3,2662.5 1397.7,2662.5 1399.1,2662.5 1400.5,2662.6 1401.9,2662.6 1403.3,2662.6 1404.7,2662.6 1406.1,2662.6 1407.5,2662.6 1408.9,2662.6 1410.3,2662.7 1411.7,2662.7 1413.1,2662.7 1414.5,2662.7 1415.8,2662.7 1417.2,2662.7 1418.6,2662.7 1420.0,2662.7 1421.4,2662.8 1422.8,2662.8 1424.2,2662.8 1425.6,2662.8 1427.0,2662.8 1428.4,2662.8 1429.8,2662.8 1431.2,2662.8 1432.6,2662.9 1434.0,2662.9 1435.4,2662.9 1436.8,2662.9 1438.2,2662.9 1439.6,2662.9 1441.0,2662.9 1442.4,2662.9 1443.8,2663.0 1445.2,2663.0 1446.6,2663.0 1447.9,2663.0 1449.3,2663.0 1450.7,2663.0 1452.1,2663.0 1453.5,2663.0 1454.9,2663.0 1456.3,2663.0 1457.7,2663.0 1459.1,2663.1 1460.5,2663.1 1461.9,2663.1 1463.3,2663.1 1464.7,2663.1 1466.1,2663.1 1467.5,2663.1 1468.9,2663.1 1470.3,2663.1 1471.7,2663.1 1473.1,2663.1 1474.5,2663.1 1475.9,2663.1 1477.3,2663.1 1478.7,2663.1 1480.1,2663.2 1481.4,2663.2 1482.8,2663.2 1484.2,2663.2 1485.6,2663.2 1487.0,2663.2 1488.4,2663.2 1489.8,2663.2 1491.2,2663.2 1492.6,2663.2 1494.0,2663.2 1495.4,2663.2 1496.8,2663.2 1498.2,2663.2 1499.6,2663.2 1501.0,2663.2 1502.4,2663.2 1503.8,2663.2 1505.2,2663.2 1506.6,2663.2 1508.0,2663.3 1509.4,2663.3 1510.8,2663.3 1512.2,2663.3 1513.5,2663.3 1514.9,2663.3 1516.3,2663.3 1517.7,2663.3 1519.1,2663.3 1520.5,2663.3 1521.9,2663.3 1523.3,2663.3 1524.7,2663.3 1526.1,2663.3 1527.5,2663.3 1528.9,2663.3 1530.3,2663.3 1531.7,2663.4 1533.1,2663.4 1534.5,2663.4 1535.9,2663.4 1537.3,2663.4 1538.7,2663.4 1540.1,2663.4 1541.5,2663.4 1542.9,2663.4 1544.3,2663.4 1545.7,2663.4 1547.0,2663.4 1548.4,2663.4 1549.8,2663.4 1551.2,2663.4 1552.6,2663.5 1554.0,2663.5 1555.4,2663.5 1556.8,2663.5 1558.2,2663.5 1559.6,2663.5 1561.0,2663.5 1562.4,2663.5" fill="none" stroke="#00a86b" stroke-width="7.0" stroke-linejoin="round"/>
<polygon points="445.8,2710.2 461.3,2682.2 430.3,2682.2" fill="#00a86b"/>
<polygon points="501.6,2706.4 517.1,2678.4 486.1,2678.4" fill="#00a86b"/>
<polygon points="557.5,2689.9 573.0,2661.9 542.0,2661.9" fill="#00a86b"/>
<polygon points="613.3,2660.4 628.8,2632.4 597.8,2632.4" fill="#00a86b"/>
<polygon points="669.1,2595.2 684.6,2567.2 653.6,2567.2" fill="#00a86b"/>
<polygon points="725.0,2393.7 740.5,2365.7 709.5,2365.7" fill="#00a86b"/>
<polygon points="780.8,2187.7 796.3,2159.7 765.3,2159.7" fill="#00a86b"/>
<polygon points="836.6,2331.9 852.1,2303.9 821.1,2303.9" fill="#00a86b"/>
<polygon points="892.4,2593.9 907.9,2565.9 876.9,2565.9" fill="#00a86b"/>
<polygon points="948.3,2664.7 963.8,2636.7 932.8,2636.7" fill="#00a86b"/>
<polygon points="1004.1,2674.7 1019.6,2646.7 988.6,2646.7" fill="#00a86b"/>
<polygon points="1059.9,2677.2 1075.4,2649.2 1044.4,2649.2" fill="#00a86b"/>
<polygon points="1115.8,2677.9 1131.3,2649.9 1100.3,2649.9" fill="#00a86b"/>
<polygon points="1171.6,2678.7 1187.1,2650.7 1156.1,2650.7" fill="#00a86b"/>
<polygon points="1227.4,2679.4 1242.9,2651.4 1211.9,2651.4" fill="#00a86b"/>
<polygon points="1283.2,2680.2 1298.8,2652.2 1267.8,2652.2" fill="#00a86b"/>
<polygon points="1339.1,2680.7 1354.6,2652.7 1323.6,2652.7" fill="#00a86b"/>
<polygon points="1394.9,2681.2 1410.4,2653.2 1379.4,2653.2" fill="#00a86b"/>
<polygon points="1450.7,2681.7 1466.2,2653.7 1435.2,2653.7" fill="#00a86b"/>
<polygon points="1506.6,2681.9 1522.1,2653.9 1491.1,2653.9" fill="#00a86b"/>
<polygon points="1562.4,2682.2 1577.9,2654.2 1546.9,2654.2" fill="#00a86b"/>
<polyline points="445.8,2697.0 447.2,2697.0 448.6,2696.9 450.0,2696.9 451.4,2696.9 452.8,2696.8 454.2,2696.8 455.6,2696.8 457.0,2696.7 458.4,2696.7 459.8,2696.6 461.2,2696.6 462.5,2696.6 463.9,2696.5 465.3,2696.5 466.7,2696.4 468.1,2696.4 469.5,2696.4 470.9,2696.3 472.3,2696.3 473.7,2696.2 475.1,2696.2 476.5,2696.1 477.9,2696.1 479.3,2696.0 480.7,2696.0 482.1,2695.9 483.5,2695.9 484.9,2695.8 486.3,2695.8 487.7,2695.7 489.1,2695.6 490.5,2695.6 491.9,2695.5 493.3,2695.4 494.7,2695.4 496.0,2695.3 497.4,2695.2 498.8,2695.2 500.2,2695.1 501.6,2695.0 503.0,2694.9 504.4,2694.8 505.8,2694.7 507.2,2694.7 508.6,2694.6 510.0,2694.5 511.4,2694.4 512.8,2694.3 514.2,2694.2 515.6,2694.0 517.0,2693.9 518.4,2693.8 519.8,2693.7 521.2,2693.5 522.6,2693.4 524.0,2693.3 525.4,2693.1 526.8,2693.0 528.1,2692.8 529.5,2692.6 530.9,2692.4 532.3,2692.3 533.7,2692.1 535.1,2691.9 536.5,2691.7 537.9,2691.5 539.3,2691.2 540.7,2691.0 542.1,2690.8 543.5,2690.5 544.9,2690.3 546.3,2690.0 547.7,2689.7 549.1,2689.4 550.5,2689.1 551.9,2688.8 553.3,2688.5 554.7,2688.2 556.1,2687.8 557.5,2687.5 558.9,2687.1 560.3,2686.8 561.6,2686.4 563.0,2686.0 564.4,2685.6 565.8,2685.2 567.2,2684.8 568.6,2684.3 570.0,2683.9 571.4,2683.4 572.8,2683.0 574.2,2682.5 575.6,2682.1 577.0,2681.6 578.4,2681.1 579.8,2680.6 581.2,2680.1 582.6,2679.6 584.0,2679.1 585.4,2678.6 586.8,2678.1 588.2,2677.6 589.6,2677.1 591.0,2676.5 592.4,2676.0 593.7,2675.5 595.1,2674.9 596.5,2674.4 597.9,2673.9 599.3,2673.3 600.7,2672.8 602.1,2672.3 603.5,2671.7 604.9,2671.2 606.3,2670.7 607.7,2670.1 609.1,2669.6 610.5,2669.1 611.9,2668.5 613.3,2668.0 614.7,2667.5 616.1,2667.0 617.5,2666.4 618.9,2665.9 620.3,2665.4 621.7,2664.9 623.1,2664.4 624.5,2663.9 625.9,2663.4 627.2,2662.9 628.6,2662.4 630.0,2662.0 631.4,2661.5 632.8,2661.0 634.2,2660.6 635.6,2660.1 637.0,2659.7 638.4,2659.2 639.8,2658.8 641.2,2658.4 642.6,2658.0 644.0,2657.6 645.4,2657.2 646.8,2656.8 648.2,2656.4 649.6,2656.0 651.0,2655.7 652.4,2655.3 653.8,2655.0 655.2,2654.7 656.6,2654.3 658.0,2654.0 659.3,2653.7 660.7,2653.5 662.1,2653.2 663.5,2652.9 664.9,2652.7 666.3,2652.4 667.7,2652.2 669.1,2652.0 670.5,2651.8 671.9,2651.6 673.3,2651.4 674.7,2651.2 676.1,2651.0 677.5,2650.7 678.9,2650.4 680.3,2650.1 681.7,2649.7 683.1,2649.2 684.5,2648.7 685.9,2648.1 687.3,2647.4 688.7,2646.6 690.1,2645.8 691.5,2644.8 692.8,2643.6 694.2,2642.4 695.6,2641.0 697.0,2639.5 698.4,2637.8 699.8,2636.0 701.2,2634.0 702.6,2631.8 704.0,2629.4 705.4,2626.9 706.8,2624.1 708.2,2621.1 709.6,2617.9 711.0,2614.5 712.4,2610.9 713.8,2607.0 715.2,2602.8 716.6,2598.4 718.0,2593.7 719.4,2588.8 720.8,2583.5 722.2,2578.0 723.6,2572.1 725.0,2566.0 726.3,2559.5 727.7,2552.8 729.1,2545.7 730.5,2538.4 731.9,2530.7 733.3,2522.9 734.7,2514.8 736.1,2506.4 737.5,2497.8 738.9,2489.0 740.3,2480.1 741.7,2470.9 743.1,2461.6 744.5,2452.1 745.9,2442.4 747.3,2432.6 748.7,2422.7 750.1,2412.7 751.5,2402.6 752.9,2392.4 754.3,2382.1 755.7,2371.8 757.1,2361.4 758.4,2350.9 759.8,2340.5 761.2,2330.0 762.6,2319.5 764.0,2309.0 765.4,2298.6 766.8,2288.2 768.2,2277.8 769.6,2267.5 771.0,2257.2 772.4,2247.1 773.8,2237.0 775.2,2227.0 776.6,2217.2 778.0,2207.5 779.4,2197.9 780.8,2188.5 782.2,2179.3 783.6,2170.2 785.0,2161.3 786.4,2152.6 787.8,2144.1 789.2,2135.8 790.6,2127.7 791.9,2119.9 793.3,2112.3 794.7,2104.9 796.1,2097.8 797.5,2090.9 798.9,2084.3 800.3,2078.0 801.7,2071.9 803.1,2066.2 804.5,2060.7 805.9,2055.6 807.3,2050.8 808.7,2046.3 810.1,2042.1 811.5,2038.3 812.9,2034.8 814.3,2031.7 815.7,2029.0 817.1,2026.6 818.5,2024.6 819.9,2023.0 821.3,2021.8 822.7,2021.0 824.0,2020.7 825.4,2020.7 826.8,2021.2 828.2,2022.2 829.6,2023.5 831.0,2025.4 832.4,2027.7 833.8,2030.5 835.2,2033.7 836.6,2037.5 838.0,2041.8 839.4,2046.5 840.8,2051.7 842.2,2057.3 843.6,2063.4 845.0,2069.9 846.4,2076.8 847.8,2084.0 849.2,2091.6 850.6,2099.6 852.0,2107.8 853.4,2116.4 854.8,2125.3 856.2,2134.4 857.5,2143.8 858.9,2153.3 860.3,2163.2 861.7,2173.2 863.1,2183.3 864.5,2193.7 865.9,2204.1 867.3,2214.7 868.7,2225.4 870.1,2236.2 871.5,2247.1 872.9,2258.0 874.3,2268.9 875.7,2279.9 877.1,2290.8 878.5,2301.7 879.9,2312.6 881.3,2323.4 882.7,2334.2 884.1,2344.8 885.5,2355.4 886.9,2365.8 888.3,2376.0 889.6,2386.1 891.0,2396.0 892.4,2405.8 893.8,2415.2 895.2,2424.5 896.6,2433.6 898.0,2442.4 899.4,2451.0 900.8,2459.4 902.2,2467.6 903.6,2475.6 905.0,2483.4 906.4,2491.0 907.8,2498.4 909.2,2505.6 910.6,2512.6 912.0,2519.4 913.4,2526.0 914.8,2532.4 916.2,2538.7 917.6,2544.7 919.0,2550.6 920.4,2556.2 921.8,2561.7 923.1,2567.0 924.5,2572.2 925.9,2577.1 927.3,2581.9 928.7,2586.5 930.1,2591.0 931.5,2595.2 932.9,2599.4 934.3,2603.3 935.7,2607.1 937.1,2610.7 938.5,2614.2 939.9,2617.5 941.3,2620.7 942.7,2623.7 944.1,2626.5 945.5,2629.3 946.9,2631.8 948.3,2634.2 949.7,2636.5 951.1,2638.7 952.5,2640.7 953.9,2642.6 955.2,2644.3 956.6,2646.0 958.0,2647.5 959.4,2648.9 960.8,2650.2 962.2,2651.4 963.6,2652.5 965.0,2653.4 966.4,2654.3 967.8,2655.1 969.2,2655.9 970.6,2656.5 972.0,2657.0 973.4,2657.5 974.8,2657.9 976.2,2658.3 977.6,2658.6 979.0,2658.8 980.4,2659.0 981.8,2659.1 983.2,2659.1 984.6,2659.2 986.0,2659.2 987.4,2659.1 988.7,2659.0 990.1,2658.9 991.5,2658.8 992.9,2658.7 994.3,2658.5 995.7,2658.3 997.1,2658.1 998.5,2657.9 999.9,2657.8 1001.3,2657.6 1002.7,2657.4 1004.1,2657.2 1005.5,2657.1 1006.9,2657.0 1008.3,2656.9 1009.7,2656.8 1011.1,2656.7 1012.5,2656.6 1013.9,2656.5 1015.3,2656.5 1016.7,2656.5 1018.1,2656.4 1019.5,2656.4 1020.8,2656.4 1022.2,2656.4 1023.6,2656.5 1025.0,2656.5 1026.4,2656.5 1027.8,2656.6 1029.2,2656.6 1030.6,2656.7 1032.0,2656.7 1033.4,2656.8 1034.8,2656.9 1036.2,2657.0 1037.6,2657.0 1039.0,2657.1 1040.4,2657.2 1041.8,2657.3 1043.2,2657.4 1044.6,2657.5 1046.0,2657.6 1047.4,2657.7 1048.8,2657.8 1050.2,2657.9 1051.6,2658.0 1053.0,2658.1 1054.3,2658.2 1055.7,2658.3 1057.1,2658.3 1058.5,2658.4 1059.9,2658.5 1061.3,2658.6 1062.7,2658.6 1064.1,2658.7 1065.5,2658.8 1066.9,2658.8 1068.3,2658.9 1069.7,2658.9 1071.1,2659.0 1072.5,2659.0 1073.9,2659.0 1075.3,2659.1 1076.7,2659.1 1078.1,2659.1 1079.5,2659.1 1080.9,2659.2 1082.3,2659.2 1083.7,2659.2 1085.1,2659.2 1086.4,2659.2 1087.8,2659.2 1089.2,2659.2 1090.6,2659.2 1092.0,2659.2 1093.4,2659.3 1094.8,2659.3 1096.2,2659.3 1097.6,2659.3 1099.0,2659.3 1100.4,2659.3 1101.8,2659.3 1103.2,2659.2 1104.6,2659.2 1106.0,2659.2 1107.4,2659.2 1108.8,2659.2 1110.2,2659.2 1111.6,2659.2 1113.0,2659.2 1114.4,2659.2 1115.8,2659.2 1117.2,2659.3 1118.6,2659.3 1119.9,2659.3 1121.3,2659.3 1122.7,2659.3 1124.1,2659.3 1125.5,2659.3 1126.9,2659.3 1128.3,2659.3 1129.7,2659.3 1131.1,2659.4 1132.5,2659.4 1133.9,2659.4 1135.3,2659.4 1136.7,2659.4 1138.1,2659.4 1139.5,2659.5 1140.9,2659.5 1142.3,2659.5 1143.7,2659.5 1145.1,2659.6 1146.5,2659.6 1147.9,2659.6 1149.3,2659.6 1150.7,2659.6 1152.0,2659.7 1153.4,2659.7 1154.8,2659.7 1156.2,2659.7 1157.6,2659.8 1159.0,2659.8 1160.4,2659.8 1161.8,2659.8 1163.2,2659.9 1164.6,2659.9 1166.0,2659.9 1167.4,2659.9 1168.8,2660.0 1170.2,2660.0 1171.6,2660.0 1173.0,2660.0 1174.4,2660.0 1175.8,2660.1 1177.2,2660.1 1178.6,2660.1 1180.0,2660.1 1181.4,2660.1 1182.8,2660.2 1184.2,2660.2 1185.5,2660.2 1186.9,2660.2 1188.3,2660.2 1189.7,2660.3 1191.1,2660.3 1192.5,2660.3 1193.9,2660.3 1195.3,2660.3 1196.7,2660.4 1198.1,2660.4 1199.5,2660.4 1200.9,2660.4 1202.3,2660.4 1203.7,2660.4 1205.1,2660.5 1206.5,2660.5 1207.9,2660.5 1209.3,2660.5 1210.7,2660.5 1212.1,2660.6 1213.5,2660.6 1214.9,2660.6 1216.3,2660.6 1217.6,2660.6 1219.0,2660.6 1220.4,2660.7 1221.8,2660.7 1223.2,2660.7 1224.6,2660.7 1226.0,2660.7 1227.4,2660.8 1228.8,2660.8 1230.2,2660.8 1231.6,2660.8 1233.0,2660.8 1234.4,2660.8 1235.8,2660.9 1237.2,2660.9 1238.6,2660.9 1240.0,2660.9 1241.4,2660.9 1242.8,2661.0 1244.2,2661.0 1245.6,2661.0 1247.0,2661.0 1248.4,2661.0 1249.8,2661.1 1251.1,2661.1 1252.5,2661.1 1253.9,2661.1 1255.3,2661.1 1256.7,2661.2 1258.1,2661.2 1259.5,2661.2 1260.9,2661.2 1262.3,2661.2 1263.7,2661.3 1265.1,2661.3 1266.5,2661.3 1267.9,2661.3 1269.3,2661.3 1270.7,2661.3 1272.1,2661.4 1273.5,2661.4 1274.9,2661.4 1276.3,2661.4 1277.7,2661.4 1279.1,2661.5 1280.5,2661.5 1281.9,2661.5 1283.2,2661.5 1284.6,2661.5 1286.0,2661.5 1287.4,2661.5 1288.8,2661.6 1290.2,2661.6 1291.6,2661.6 1293.0,2661.6 1294.4,2661.6 1295.8,2661.6 1297.2,2661.6 1298.6,2661.7 1300.0,2661.7 1301.4,2661.7 1302.8,2661.7 1304.2,2661.7 1305.6,2661.7 1307.0,2661.7 1308.4,2661.7 1309.8,2661.8 1311.2,2661.8 1312.6,2661.8 1314.0,2661.8 1315.4,2661.8 1316.7,2661.8 1318.1,2661.8 1319.5,2661.8 1320.9,2661.9 1322.3,2661.9 1323.7,2661.9 1325.1,2661.9 1326.5,2661.9 1327.9,2661.9 1329.3,2661.9 1330.7,2661.9 1332.1,2661.9 1333.5,2662.0 1334.9,2662.0 1336.3,2662.0 1337.7,2662.0 1339.1,2662.0 1340.5,2662.0 1341.9,2662.0 1343.3,2662.0 1344.7,2662.0 1346.1,2662.1 1347.5,2662.1 1348.9,2662.1 1350.2,2662.1 1351.6,2662.1 1353.0,2662.1 1354.4,2662.1 1355.8,2662.1 1357.2,2662.2 1358.6,2662.2 1360.0,2662.2 1361.4,2662.2 1362.8,2662.2 1364.2,2662.2 1365.6,2662.2 1367.0,2662.2 1368.4,2662.3 1369.8,2662.3 1371.2,2662.3 1372.6,2662.3 1374.0,2662.3 1375.4,2662.3 1376.8,2662.3 1378.2,2662.3 1379.6,2662.4 1381.0,2662.4 1382.3,2662.4 1383.7,2662.4 1385.1,2662.4 1386.5,2662.4 1387.9,2662.4 1389.3,2662.4 1390.7,2662.5 1392.1,2662.5 1393.5,2662.5 1394.9,2662.5 1396.3,2662.5 1397.7,2662.5 1399.1,2662.5 1400.5,2662.6 1401.9,2662.6 1403.3,2662.6 1404.7,2662.6 1406.1,2662.6 1407.5,2662.6 1408.9,2662.6 1410.3,2662.7 1411.7,2662.7 1413.1,2662.7 1414.5,2662.7 1415.8,2662.7 1417.2,2662.7 1418.6,2662.7 1420.0,2662.7 1421.4,2662.8 1422.8,2662.8 1424.2,2662.8 1425.6,2662.8 1427.0,2662.8 1428.4,2662.8 1429.8,2662.8 1431.2,2662.8 1432.6,2662.9 1434.0,2662.9 1435.4,2662.9 1436.8,2662.9 1438.2,2662.9 1439.6,2662.9 1441.0,2662.9 1442.4,2662.9 1443.8,2663.0 1445.2,2663.0 1446.6,2663.0 1447.9,2663.0 1449.3,2663.0 1450.7,2663.0 1452.1,2663.0 1453.5,2663.0 1454.9,2663.0 1456.3,2663.0 1457.7,2663.0 1459.1,2663.1 1460.5,2663.1 1461.9,2663.1 1463.3,2663.1 1464.7,2663.1 1466.1,2663.1 1467.5,2663.1 1468.9,2663.1 1470.3,2663.1 1471.7,2663.1 1473.1,2663.1 1474.5,2663.1 1475.9,2663.1 1477.3,2663.1 1478.7,2663.1 1480.1,2663.2 1481.4,2663.2 1482.8,2663.2 1484.2,2663.2 1485.6,2663.2 1487.0,2663.2 1488.4,2663.2 1489.8,2663.2 1491.2,2663.2 1492.6,2663.2 1494.0,2663.2 1495.4,2663.2 1496.8,2663.2 1498.2,2663.2 1499.6,2663.2 1501.0,2663.2 1502.4,2663.2 1503.8,2663.2 1505.2,2663.2 1506.6,2663.2 1508.0,2663.3 1509.4,2663.3 1510.8,2663.3 1512.2,2663.3 1513.5,2663.3 1514.9,2663.3 1516.3,2663.3 1517.7,2663.3 1519.1,2663.3 1520.5,2663.3 1521.9,2663.3 1523.3,2663.3 1524.7,2663.3 1526.1,2663.3 1527.5,2663.3 1528.9,2663.3 1530.3,2663.3 1531.7,2663.4 1533.1,2663.4 1534.5,2663.4 1535.9,2663.4 1537.3,2663.4 1538.7,2663.4 1540.1,2663.4 1541.5,2663.4 1542.9,2663.4 1544.3,2663.4 1545.7,2663.4 1547.0,2663.4 1548.4,2663.4 1549.8,2663.4 1551.2,2663.4 1552.6,2663.5 1554.0,2663.5 1555.4,2663.5 1556.8,2663.5 1558.2,2663.5 1559.6,2663.5 1561.0,2663.5 1562.4,2663.5" fill="none" stroke="#c878e0" stroke-width="7.0" stroke-linejoin="round"/>
<polygon points="445.8,2680.5 462.3,2697.0 445.8,2713.5 429.3,2697.0" fill="#c878e0"/>
<polygon points="501.6,2678.5 518.1,2695.0 501.6,2711.5 485.1,2695.0" fill="#c878e0"/>
<polygon points="557.5,2671.0 574.0,2687.5 557.5,2704.0 541.0,2687.5" fill="#c878e0"/>
<polygon points="613.3,2651.5 629.8,2668.0 613.3,2684.5 596.8,2668.0" fill="#c878e0"/>
<polygon points="669.1,2635.5 685.6,2652.0 669.1,2668.5 652.6,2652.0" fill="#c878e0"/>
<polygon points="725.0,2549.5 741.5,2566.0 725.0,2582.5 708.5,2566.0" fill="#c878e0"/>
<polygon points="780.8,2172.0 797.3,2188.5 780.8,2205.0 764.3,2188.5" fill="#c878e0"/>
<polygon points="836.6,2021.0 853.1,2037.5 836.6,2054.0 820.1,2037.5" fill="#c878e0"/>
<polygon points="892.4,2389.2 908.9,2405.8 892.4,2422.2 875.9,2405.8" fill="#c878e0"/>
<polygon points="948.3,2617.8 964.8,2634.2 948.3,2650.8 931.8,2634.2" fill="#c878e0"/>
<polygon points="1004.1,2640.8 1020.6,2657.2 1004.1,2673.8 987.6,2657.2" fill="#c878e0"/>
<polygon points="1059.9,2642.0 1076.4,2658.5 1059.9,2675.0 1043.4,2658.5" fill="#c878e0"/>
<polygon points="1115.8,2642.8 1132.3,2659.2 1115.8,2675.8 1099.3,2659.2" fill="#c878e0"/>
<polygon points="1171.6,2643.5 1188.1,2660.0 1171.6,2676.5 1155.1,2660.0" fill="#c878e0"/>
<polygon points="1227.4,2644.2 1243.9,2660.8 1227.4,2677.2 1210.9,2660.8" fill="#c878e0"/>
<polygon points="1283.2,2645.0 1299.8,2661.5 1283.2,2678.0 1266.8,2661.5" fill="#c878e0"/>
<polygon points="1339.1,2645.5 1355.6,2662.0 1339.1,2678.5 1322.6,2662.0" fill="#c878e0"/>
<polygon points="1394.9,2646.0 1411.4,2662.5 1394.9,2679.0 1378.4,2662.5" fill="#c878e0"/>
<polygon points="1450.7,2646.5 1467.2,2663.0 1450.7,2679.5 1434.2,2663.0" fill="#c878e0"/>
<polygon points="1506.6,2646.8 1523.1,2663.2 1506.6,2679.8 1490.1,2663.2" fill="#c878e0"/>
<polygon points="1562.4,2647.0 1578.9,2663.5 1562.4,2680.0 1545.9,2663.5" fill="#c878e0"/>
<polyline points="445.8,2702.0 447.2,2701.9 448.6,2701.8 450.0,2701.7 451.4,2701.6 452.8,2701.5 454.2,2701.5 455.6,2701.4 457.0,2701.3 458.4,2701.2 459.8,2701.1 461.2,2701.0 462.5,2700.9 463.9,2700.8 465.3,2700.7 466.7,2700.6 468.1,2700.5 469.5,2700.5 470.9,2700.4 472.3,2700.3 473.7,2700.2 475.1,2700.1 476.5,2700.0 477.9,2699.9 479.3,2699.8 480.7,2699.8 482.1,2699.7 483.5,2699.6 484.9,2699.5 486.3,2699.4 487.7,2699.3 489.1,2699.2 490.5,2699.2 491.9,2699.1 493.3,2699.0 494.7,2698.9 496.0,2698.8 497.4,2698.7 498.8,2698.7 500.2,2698.6 501.6,2698.5 503.0,2698.4 504.4,2698.3 505.8,2698.3 507.2,2698.2 508.6,2698.1 510.0,2698.0 511.4,2698.0 512.8,2697.9 514.2,2697.8 515.6,2697.7 517.0,2697.6 518.4,2697.5 519.8,2697.5 521.2,2697.4 522.6,2697.3 524.0,2697.2 525.4,2697.1 526.8,2697.0 528.1,2696.9 529.5,2696.8 530.9,2696.7 532.3,2696.6 533.7,2696.5 535.1,2696.4 536.5,2696.3 537.9,2696.2 539.3,2696.1 540.7,2696.0 542.1,2695.9 543.5,2695.7 544.9,2695.6 546.3,2695.5 547.7,2695.3 549.1,2695.2 550.5,2695.0 551.9,2694.9 553.3,2694.7 554.7,2694.6 556.1,2694.4 557.5,2694.2 558.9,2694.1 560.3,2693.9 561.6,2693.7 563.0,2693.5 564.4,2693.3 565.8,2693.1 567.2,2692.9 568.6,2692.7 570.0,2692.5 571.4,2692.3 572.8,2692.1 574.2,2691.9 575.6,2691.7 577.0,2691.4 578.4,2691.2 579.8,2691.0 581.2,2690.8 582.6,2690.6 584.0,2690.3 585.4,2690.1 586.8,2689.9 588.2,2689.7 589.6,2689.4 591.0,2689.2 592.4,2689.0 593.7,2688.8 595.1,2688.6 596.5,2688.3 597.9,2688.1 599.3,2687.9 600.7,2687.7 602.1,2687.5 603.5,2687.3 604.9,2687.1 606.3,2686.9 607.7,2686.7 609.1,2686.5 610.5,2686.4 611.9,2686.2 613.3,2686.0 614.7,2685.8 616.1,2685.7 617.5,2685.5 618.9,2685.4 620.3,2685.2 621.7,2685.1 623.1,2684.9 624.5,2684.8 625.9,2684.6 627.2,2684.5 628.6,2684.3 630.0,2684.2 631.4,2684.1 632.8,2683.9 634.2,2683.8 635.6,2683.6 637.0,2683.5 638.4,2683.3 639.8,2683.2 641.2,2683.0 642.6,2682.8 644.0,2682.6 645.4,2682.5 646.8,2682.3 648.2,2682.1 649.6,2681.9 651.0,2681.7 652.4,2681.5 653.8,2681.2 655.2,2681.0 656.6,2680.8 658.0,2680.5 659.3,2680.2 660.7,2679.9 662.1,2679.7 663.5,2679.4 664.9,2679.0 666.3,2678.7 667.7,2678.4 669.1,2678.0 670.5,2677.6 671.9,2677.2 673.3,2676.8 674.7,2676.4 676.1,2676.0 677.5,2675.6 678.9,2675.1 680.3,2674.7 681.7,2674.2 683.1,2673.8 684.5,2673.3 685.9,2672.8 687.3,2672.4 688.7,2671.9 690.1,2671.5 691.5,2671.0 692.8,2670.5 694.2,2670.1 695.6,2669.7 697.0,2669.2 698.4,2668.8 699.8,2668.4 701.2,2668.0 702.6,2667.6 704.0,2667.2 705.4,2666.8 706.8,2666.5 708.2,2666.2 709.6,2665.9 711.0,2665.6 712.4,2665.3 713.8,2665.0 715.2,2664.8 716.6,2664.6 718.0,2664.4 719.4,2664.3 720.8,2664.2 722.2,2664.1 723.6,2664.0 725.0,2664.0 726.3,2664.0 727.7,2664.0 729.1,2664.1 730.5,2664.2 731.9,2664.3 733.3,2664.4 734.7,2664.5 736.1,2664.6 737.5,2664.7 738.9,2664.8 740.3,2664.9 741.7,2665.0 743.1,2665.1 744.5,2665.1 745.9,2665.2 747.3,2665.1 748.7,2665.1 750.1,2665.0 751.5,2664.9 752.9,2664.7 754.3,2664.5 755.7,2664.2 757.1,2663.8 758.4,2663.4 759.8,2662.9 761.2,2662.4 762.6,2661.8 764.0,2661.0 765.4,2660.2 766.8,2659.3 768.2,2658.4 769.6,2657.3 771.0,2656.1 772.4,2654.8 773.8,2653.4 775.2,2651.9 776.6,2650.2 778.0,2648.4 779.4,2646.5 780.8,2644.5 782.2,2642.3 783.6,2640.0 785.0,2637.6 786.4,2635.0 787.8,2632.3 789.2,2629.4 790.6,2626.4 791.9,2623.3 793.3,2620.0 794.7,2616.6 796.1,2613.1 797.5,2609.4 798.9,2605.6 800.3,2601.6 801.7,2597.5 803.1,2593.3 804.5,2588.9 805.9,2584.4 807.3,2579.7 808.7,2574.9 810.1,2570.0 811.5,2564.9 812.9,2559.7 814.3,2554.4 815.7,2549.0 817.1,2543.5 818.5,2537.8 819.9,2532.1 821.3,2526.3 822.7,2520.3 824.0,2514.4 825.4,2508.3 826.8,2502.2 828.2,2496.0 829.6,2489.7 831.0,2483.2 832.4,2476.2 833.8,2468.7 835.2,2460.4 836.6,2451.2 838.0,2441.1 839.4,2430.0 840.8,2417.9 842.2,2405.0 843.6,2391.3 845.0,2376.8 846.4,2361.7 847.8,2345.9 849.2,2329.5 850.6,2312.5 852.0,2295.1 853.4,2277.3 854.8,2259.2 856.2,2240.7 857.5,2222.0 858.9,2203.0 860.3,2184.0 861.7,2164.8 863.1,2145.7 864.5,2126.6 865.9,2107.5 867.3,2088.6 868.7,2069.9 870.1,2051.5 871.5,2033.4 872.9,2015.6 874.3,1998.3 875.7,1981.4 877.1,1965.1 878.5,1949.4 879.9,1934.3 881.3,1919.9 882.7,1906.3 884.1,1893.5 885.5,1881.6 886.9,1870.6 888.3,1860.6 889.6,1851.6 891.0,1843.7 892.4,1837.0 893.8,1831.5 895.2,1827.0 896.6,1823.5 898.0,1820.8 899.4,1818.8 900.8,1817.4 902.2,1816.4 903.6,1815.8 905.0,1815.4 906.4,1815.2 907.8,1815.4 909.2,1815.8 910.6,1816.6 912.0,1817.7 913.4,1819.2 914.8,1821.1 916.2,1823.3 917.6,1826.0 919.0,1829.1 920.4,1832.7 921.8,1836.7 923.1,1841.2 924.5,1846.3 925.9,1851.9 927.3,1858.0 928.7,1864.7 930.1,1872.0 931.5,1879.8 932.9,1888.4 934.3,1897.5 935.7,1907.3 937.1,1917.9 938.5,1929.1 939.9,1941.0 941.3,1953.7 942.7,1967.1 944.1,1981.3 945.5,1996.3 946.9,2012.1 948.3,2028.8 949.7,2046.2 951.1,2064.5 952.5,2083.3 953.9,2102.7 955.2,2122.5 956.6,2142.6 958.0,2162.9 959.4,2183.3 960.8,2203.6 962.2,2223.9 963.6,2243.9 965.0,2263.5 966.4,2282.7 967.8,2301.5 969.2,2319.8 970.6,2337.8 972.0,2355.4 973.4,2372.7 974.8,2389.7 976.2,2406.4 977.6,2422.9 979.0,2439.1 980.4,2455.1 981.8,2471.0 983.2,2486.7 984.6,2502.2 986.0,2517.5 987.4,2532.4 988.7,2546.9 990.1,2561.0 991.5,2574.5 992.9,2587.5 994.3,2599.9 995.7,2611.5 997.1,2622.5 998.5,2632.7 999.9,2642.6 1000.8,2648.5 1002.1,2652.7 1003.5,2656.1 1004.9,2656.6 1006.3,2656.7 1007.7,2656.8 1009.1,2656.9 1010.5,2657.1 1011.9,2657.2 1013.3,2657.3 1014.7,2657.3 1016.1,2657.4 1017.5,2657.5 1018.9,2657.6 1020.3,2657.6 1021.7,2657.7 1023.1,2657.8 1024.5,2657.8 1025.9,2657.9 1027.3,2657.9 1028.7,2658.0 1030.1,2658.0 1031.5,2658.0 1032.9,2658.1 1034.2,2658.1 1035.6,2658.1 1037.0,2658.2 1038.4,2658.2 1039.8,2658.2 1041.2,2658.2 1042.6,2658.2 1044.0,2658.3 1045.4,2658.3 1046.8,2658.3 1048.2,2658.3 1049.6,2658.3 1051.0,2658.4 1052.4,2658.4 1053.8,2658.4 1055.2,2658.4 1056.6,2658.4 1058.0,2658.5 1059.4,2658.5 1060.8,2658.5 1062.2,2658.5 1063.6,2658.6 1065.0,2658.6 1066.4,2658.6 1067.7,2658.6 1069.1,2658.7 1070.5,2658.7 1071.9,2658.7 1073.3,2658.7 1074.7,2658.7 1076.1,2658.8 1077.5,2658.8 1078.9,2658.8 1080.3,2658.8 1081.7,2658.8 1083.1,2658.9 1084.5,2658.9 1085.9,2658.9 1087.3,2658.9 1088.7,2658.9 1090.1,2658.9 1091.5,2659.0 1092.9,2659.0 1094.3,2659.0 1095.7,2659.0 1097.1,2659.0 1098.5,2659.0 1099.8,2659.1 1101.2,2659.1 1102.6,2659.1 1104.0,2659.1 1105.4,2659.1 1106.8,2659.1 1108.2,2659.2 1109.6,2659.2 1111.0,2659.2 1112.4,2659.2 1113.8,2659.2 1115.2,2659.2 1116.6,2659.3 1118.0,2659.3 1119.4,2659.3 1120.8,2659.3 1122.2,2659.3 1123.6,2659.4 1125.0,2659.4 1126.4,2659.4 1127.8,2659.4 1129.2,2659.4 1130.6,2659.4 1132.0,2659.5 1133.3,2659.5 1134.7,2659.5 1136.1,2659.5 1137.5,2659.5 1138.9,2659.6 1140.3,2659.6 1141.7,2659.6 1143.1,2659.6 1144.5,2659.6 1145.9,2659.7 1147.3,2659.7 1148.7,2659.7 1150.1,2659.7 1151.5,2659.7 1152.9,2659.7 1154.3,2659.8 1155.7,2659.8 1157.1,2659.8 1158.5,2659.8 1159.9,2659.8 1161.3,2659.9 1162.7,2659.9 1164.1,2659.9 1165.4,2659.9 1166.8,2659.9 1168.2,2660.0 1169.6,2660.0 1171.0,2660.0 1172.4,2660.0 1173.8,2660.0 1175.2,2660.0 1176.6,2660.1 1178.0,2660.1 1179.4,2660.1 1180.8,2660.1 1182.2,2660.1 1183.6,2660.2 1185.0,2660.2 1186.4,2660.2 1187.8,2660.2 1189.2,2660.2 1190.6,2660.3 1192.0,2660.3 1193.4,2660.3 1194.8,2660.3 1196.2,2660.3 1197.6,2660.3 1198.9,2660.4 1200.3,2660.4 1201.7,2660.4 1203.1,2660.4 1204.5,2660.4 1205.9,2660.5 1207.3,2660.5 1208.7,2660.5 1210.1,2660.5 1211.5,2660.5 1212.9,2660.6 1214.3,2660.6 1215.7,2660.6 1217.1,2660.6 1218.5,2660.6 1219.9,2660.6 1221.3,2660.7 1222.7,2660.7 1224.1,2660.7 1225.5,2660.7 1226.9,2660.7 1228.3,2660.8 1229.7,2660.8 1231.0,2660.8 1232.4,2660.8 1233.8,2660.8 1235.2,2660.9 1236.6,2660.9 1238.0,2660.9 1239.4,2660.9 1240.8,2660.9 1242.2,2661.0 1243.6,2661.0 1245.0,2661.0 1246.4,2661.0 1247.8,2661.0 1249.2,2661.1 1250.6,2661.1 1252.0,2661.1 1253.4,2661.1 1254.8,2661.1 1256.2,2661.2 1257.6,2661.2 1259.0,2661.2 1260.4,2661.2 1261.8,2661.2 1263.2,2661.3 1264.5,2661.3 1265.9,2661.3 1267.3,2661.3 1268.7,2661.3 1270.1,2661.3 1271.5,2661.4 1272.9,2661.4 1274.3,2661.4 1275.7,2661.4 1277.1,2661.4 1278.5,2661.4 1279.9,2661.5 1281.3,2661.5 1282.7,2661.5 1284.1,2661.5 1285.5,2661.5 1286.9,2661.5 1288.3,2661.6 1289.7,2661.6 1291.1,2661.6 1292.5,2661.6 1293.9,2661.6 1295.3,2661.6 1296.6,2661.6 1298.0,2661.6 1299.4,2661.7 1300.8,2661.7 1302.2,2661.7 1303.6,2661.7 1305.0,2661.7 1306.4,2661.7 1307.8,2661.7 1309.2,2661.7 1310.6,2661.8 1312.0,2661.8 1313.4,2661.8 1314.8,2661.8 1316.2,2661.8 1317.6,2661.8 1319.0,2661.8 1320.4,2661.8 1321.8,2661.9 1323.2,2661.9 1324.6,2661.9 1326.0,2661.9 1327.4,2661.9 1328.8,2661.9 1330.1,2661.9 1331.5,2661.9 1332.9,2661.9 1334.3,2662.0 1335.7,2662.0 1337.1,2662.0 1338.5,2662.0 1339.9,2662.0 1341.3,2662.0 1342.7,2662.0 1344.1,2662.0 1345.5,2662.1 1346.9,2662.1 1348.3,2662.1 1349.7,2662.1 1351.1,2662.1 1352.5,2662.1 1353.9,2662.1 1355.3,2662.1 1356.7,2662.2 1358.1,2662.2 1359.5,2662.2 1360.9,2662.2 1362.2,2662.2 1363.6,2662.2 1365.0,2662.2 1366.4,2662.2 1367.8,2662.3 1369.2,2662.3 1370.6,2662.3 1372.0,2662.3 1373.4,2662.3 1374.8,2662.3 1376.2,2662.3 1377.6,2662.3 1379.0,2662.4 1380.4,2662.4 1381.8,2662.4 1383.2,2662.4 1384.6,2662.4 1386.0,2662.4 1387.4,2662.4 1388.8,2662.4 1390.2,2662.5 1391.6,2662.5 1393.0,2662.5 1394.4,2662.5 1395.7,2662.5 1397.1,2662.5 1398.5,2662.5 1399.9,2662.5 1401.3,2662.6 1402.7,2662.6 1404.1,2662.6 1405.5,2662.6 1406.9,2662.6 1408.3,2662.6 1409.7,2662.6 1411.1,2662.7 1412.5,2662.7 1413.9,2662.7 1415.3,2662.7 1416.7,2662.7 1418.1,2662.7 1419.5,2662.7 1420.9,2662.8 1422.3,2662.8 1423.7,2662.8 1425.1,2662.8 1426.5,2662.8 1427.8,2662.8 1429.2,2662.8 1430.6,2662.8 1432.0,2662.9 1433.4,2662.9 1434.8,2662.9 1436.2,2662.9 1437.6,2662.9 1439.0,2662.9 1440.4,2662.9 1441.8,2662.9 1443.2,2662.9 1444.6,2663.0 1446.0,2663.0 1447.4,2663.0 1448.8,2663.0 1450.2,2663.0 1451.6,2663.0 1453.0,2663.0 1454.4,2663.0 1455.8,2663.0 1457.2,2663.0 1458.6,2663.0 1460.0,2663.1 1461.3,2663.1 1462.7,2663.1 1464.1,2663.1 1465.5,2663.1 1466.9,2663.1 1468.3,2663.1 1469.7,2663.1 1471.1,2663.1 1472.5,2663.1 1473.9,2663.1 1475.3,2663.1 1476.7,2663.1 1478.1,2663.1 1479.5,2663.1 1480.9,2663.1 1482.3,2663.2 1483.7,2663.2 1485.1,2663.2 1486.5,2663.2 1487.9,2663.2 1489.3,2663.2 1490.7,2663.2 1492.1,2663.2 1493.4,2663.2 1494.8,2663.2 1496.2,2663.2 1497.6,2663.2 1499.0,2663.2 1500.4,2663.2 1501.8,2663.2 1503.2,2663.2 1504.6,2663.2 1506.0,2663.2 1507.4,2663.3 1508.8,2663.3 1510.2,2663.3 1511.6,2663.3 1513.0,2663.3 1514.4,2663.3 1515.8,2663.3 1517.2,2663.3 1518.6,2663.3 1520.0,2663.3 1521.4,2663.3 1522.8,2663.3 1524.2,2663.3 1525.6,2663.3 1526.9,2663.3 1528.3,2663.3 1529.7,2663.4 1531.1,2663.4 1532.5,2663.4 1533.9,2663.4 1535.3,2663.4 1536.7,2663.4 1538.1,2663.4 1539.5,2663.4 1540.9,2663.4 1542.3,2663.4 1543.7,2663.4 1545.1,2663.4 1546.5,2663.4 1547.9,2663.4 1549.3,2663.4 1550.7,2663.4 1552.1,2663.5 1553.5,2663.5 1554.9,2663.5 1556.3,2663.5 1557.7,2663.5 1559.1,2663.5 1560.4,2663.5 1561.8,2663.5" fill="none" stroke="#dba000" stroke-width="7.0" stroke-linejoin="round"/>
<polygon points="427.1,2702.0 455.1,2686.5 455.1,2717.5" fill="#dba000"/>
<polygon points="483.0,2698.5 511.0,2683.0 511.0,2714.0" fill="#dba000"/>
<polygon points="538.8,2694.2 566.8,2678.8 566.8,2709.8" fill="#dba000"/>
<polygon points="594.6,2686.0 622.6,2670.5 622.6,2701.5" fill="#dba000"/>
<polygon points="650.5,2678.0 678.5,2662.5 678.5,2693.5" fill="#dba000"/>
<polygon points="706.3,2664.0 734.3,2648.5 734.3,2679.5" fill="#dba000"/>
<polygon points="762.1,2644.5 790.1,2629.0 790.1,2660.0" fill="#dba000"/>
<polygon points="817.9,2451.2 845.9,2435.8 845.9,2466.8" fill="#dba000"/>
<polygon points="873.8,1837.0 901.8,1821.5 901.8,1852.5" fill="#dba000"/>
<polygon points="929.6,2028.8 957.6,2013.2 957.6,2044.2" fill="#dba000"/>
<polygon points="985.4,2656.5 1013.4,2641.0 1013.4,2672.0" fill="#dba000"/>
<polygon points="1041.3,2658.5 1069.3,2643.0 1069.3,2674.0" fill="#dba000"/>
<polygon points="1097.1,2659.2 1125.1,2643.8 1125.1,2674.8" fill="#dba000"/>
<polygon points="1152.9,2660.0 1180.9,2644.5 1180.9,2675.5" fill="#dba000"/>
<polygon points="1208.8,2660.8 1236.8,2645.2 1236.8,2676.2" fill="#dba000"/>
<polygon points="1264.6,2661.5 1292.6,2646.0 1292.6,2677.0" fill="#dba000"/>
<polygon points="1320.4,2662.0 1348.4,2646.5 1348.4,2677.5" fill="#dba000"/>
<polygon points="1376.2,2662.5 1404.2,2647.0 1404.2,2678.0" fill="#dba000"/>
<polygon points="1432.1,2663.0 1460.1,2647.5 1460.1,2678.5" fill="#dba000"/>
<polygon points="1487.9,2663.2 1515.9,2647.8 1515.9,2678.8" fill="#dba000"/>
<polygon points="1543.7,2663.5 1571.7,2648.0 1571.7,2679.0" fill="#dba000"/>
<line x1="604.6" y1="2480.1" x2="604.6" y2="2564.0" stroke="#ff0000" stroke-width="3.8"/>
<polygon points="595.8000000000001,2562.0 613.4,2562.0 604.6,2593.5" fill="#ff0000"/>
<line x1="669.6" y1="2395" x2="669.6" y2="2472.0" stroke="#0022ff" stroke-width="3.8"/>
<polygon points="660.8000000000001,2470.0 678.4,2470.0 669.6,2501.5" fill="#0022ff"/>
<line x1="785.0" y1="2031.6" x2="785.0" y2="2104.5" stroke="#008800" stroke-width="3.8"/>
<polygon points="776.2,2102.5 793.8,2102.5 785.0,2134.0" fill="#008800"/>
<line x1="825.4" y1="1898.5" x2="825.4" y2="1981.4" stroke="#d070ff" stroke-width="3.8"/>
<polygon points="816.6,1979.4 834.1999999999999,1979.4 825.4,2010.9" fill="#d070ff"/>
<line x1="904.3" y1="1699.2" x2="904.3" y2="1778.0" stroke="#ffaa00" stroke-width="3.8"/>
<polygon points="895.5,1776.0 913.0999999999999,1776.0 904.3,1807.5" fill="#ffaa00"/>
<rect x="1105" y="1578.1" width="543" height="486.5999999999999" fill="#fff" stroke="#3c3c3c" stroke-width="2.6"/>
<line x1="1107" y1="1624.7" x2="1247" y2="1624.7" stroke="#515151" stroke-width="7.2"/>
<rect x="1165.0" y="1612.7" width="24" height="24" fill="#515151"/>
<text x="1257" y="1644.7" class="lg">6×10<tspan class="sup" dy="-24">12</tspan><tspan dy="24"> K/min</tspan></text>
<line x1="1107" y1="1705.8" x2="1247" y2="1705.8" stroke="#fd4040" stroke-width="7.2"/>
<ellipse cx="1177.0" cy="1705.8" rx="13.4" ry="14.3" fill="#fd4040"/>
<text x="1257" y="1725.8" class="lg">1.2×10<tspan class="sup" dy="-24">12</tspan><tspan dy="24"> K/min</tspan></text>
<line x1="1107" y1="1785.2" x2="1247" y2="1785.2" stroke="#0066dd" stroke-width="7.2"/>
<polygon points="1177.0,1766.5 1192.5,1794.5 1161.5,1794.5" fill="#0066dd"/>
<text x="1257" y="1805.2" class="lg">6×10<tspan class="sup" dy="-24">11</tspan><tspan dy="24"> K/min</tspan></text>
<line x1="1107" y1="1865.4" x2="1247" y2="1865.4" stroke="#00a86b" stroke-width="7.2"/>
<polygon points="1177.0,1884.1 1192.5,1856.1 1161.5,1856.1" fill="#00a86b"/>
<text x="1257" y="1885.4" class="lg">1.2×10<tspan class="sup" dy="-24">11</tspan><tspan dy="24"> K/min</tspan></text>
<line x1="1107" y1="1945.2" x2="1247" y2="1945.2" stroke="#c878e0" stroke-width="7.2"/>
<polygon points="1177.0,1928.7 1193.5,1945.2 1177.0,1961.7 1160.5,1945.2" fill="#c878e0"/>
<text x="1257" y="1965.2" class="lg">6×10<tspan class="sup" dy="-24">10</tspan><tspan dy="24"> K/min</tspan></text>
<line x1="1107" y1="2025.0" x2="1247" y2="2025.0" stroke="#dba000" stroke-width="7.2"/>
<polygon points="1158.3,2025.0 1186.3,2009.5 1186.3,2040.5" fill="#dba000"/>
<text x="1257" y="2045.0" class="lg">6×10<tspan class="sup" dy="-24">9</tspan><tspan dy="24"> K/min</tspan></text>
<text x="328" y="140.5" class="pl">(a)</text>
<text x="333" y="1697" class="pl">(b)</text>
<text x="1006" y="1446.5" text-anchor="middle" class="at"><tspan font-style="italic">T</tspan>, K</text>
<text x="1006" y="2989.6" text-anchor="middle" class="at"><tspan font-style="italic">T</tspan>, K</text>
<text transform="translate(96.5,668.5) rotate(-90)" text-anchor="middle" class="at" style="font-size:99px"><tspan font-style="italic">ρ</tspan>, kg/m<tspan font-size="66" dy="-41" dx="3">3</tspan></text>
<text transform="translate(180.5,2207) rotate(-90)" text-anchor="middle" class="at" style="font-size:97px"><tspan font-style="italic">C</tspan><tspan font-style="italic" font-size="64" dy="22">p</tspan><tspan dy="-22">, kJ/(mol·K)</tspan></text>
</svg>
</body></html>
